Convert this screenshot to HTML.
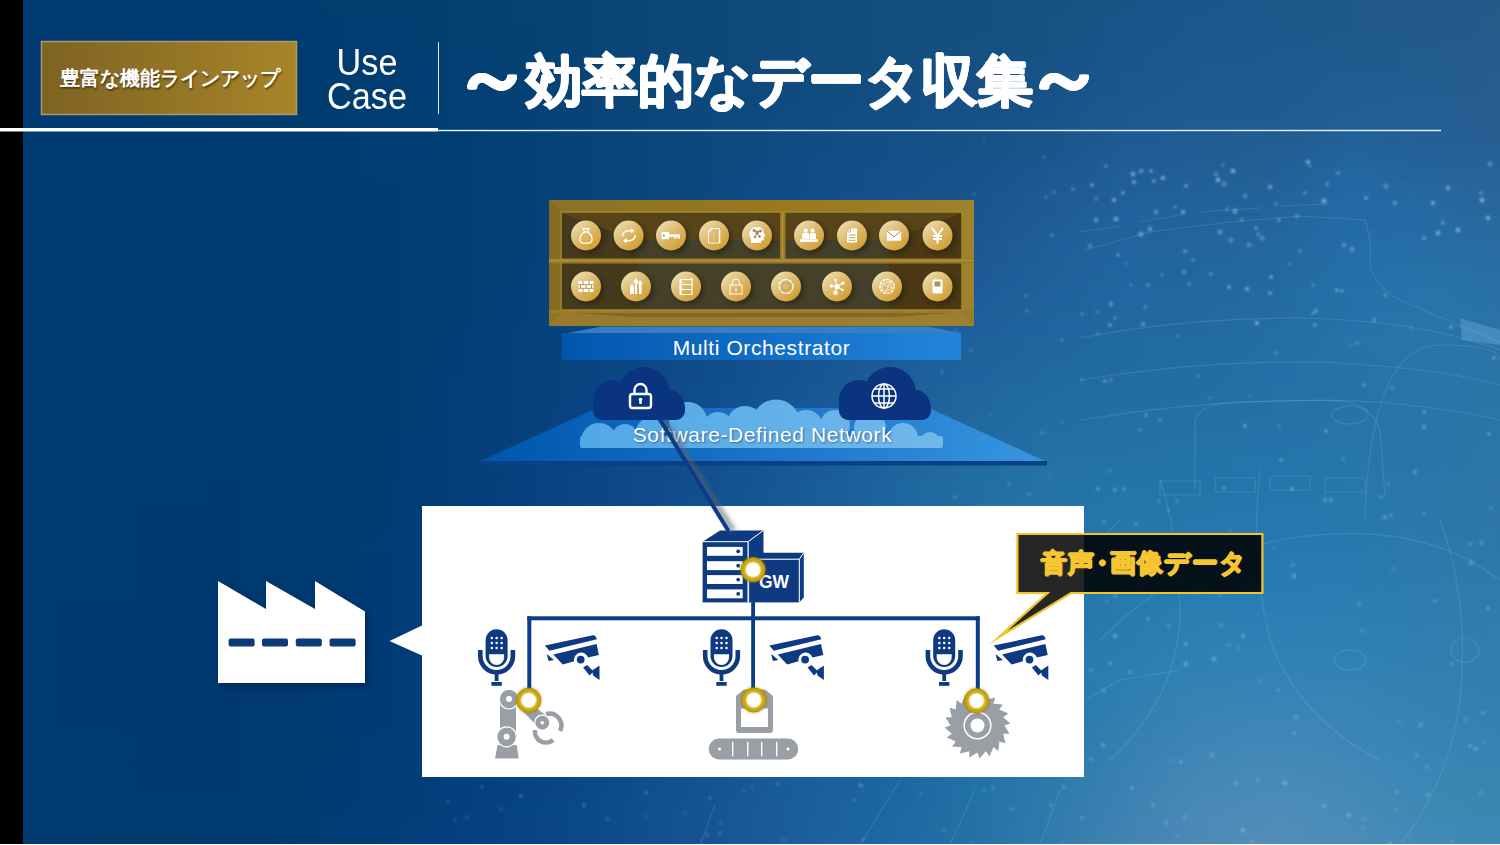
<!DOCTYPE html>
<html lang="ja"><head><meta charset="utf-8">
<style>
html,body{margin:0;padding:0;}
body{width:1500px;height:845px;overflow:hidden;position:relative;background:#000;font-family:"Liberation Sans",sans-serif;}
#bg{position:absolute;left:23px;top:0;width:1477px;height:844px;background:#003a70;}
#bot{position:absolute;left:0;top:844px;width:1500px;height:1px;background:#fff;}
.abs{position:absolute;}
.jp{white-space:nowrap;}
</style></head>
<body>
<div id="bg"></div>
<div id="bot"></div>
<svg class="abs" style="left:23px;top:0" width="1477" height="844" viewBox="23 0 1477 844"><defs>
<linearGradient id="r0" gradientUnits="userSpaceOnUse" x1="0" x2="1500" y1="0" y2="0"><stop offset="0.000" stop-color="#003a70"/><stop offset="0.050" stop-color="#003a70"/><stop offset="0.100" stop-color="#013b70"/><stop offset="0.150" stop-color="#013b6f"/><stop offset="0.200" stop-color="#013c70"/><stop offset="0.250" stop-color="#033e70"/><stop offset="0.300" stop-color="#053f72"/><stop offset="0.350" stop-color="#074274"/><stop offset="0.400" stop-color="#0a4476"/><stop offset="0.450" stop-color="#0d4777"/><stop offset="0.500" stop-color="#0f4979"/><stop offset="0.550" stop-color="#124c7a"/><stop offset="0.600" stop-color="#144e7c"/><stop offset="0.650" stop-color="#154f7e"/><stop offset="0.700" stop-color="#175182"/><stop offset="0.750" stop-color="#195487"/><stop offset="0.800" stop-color="#1b568b"/><stop offset="0.850" stop-color="#1d578a"/><stop offset="0.900" stop-color="#1f588a"/><stop offset="0.950" stop-color="#205a89"/><stop offset="1.000" stop-color="#225b89"/></linearGradient>
<linearGradient id="r1" gradientUnits="userSpaceOnUse" x1="0" x2="1500" y1="0" y2="0"><stop offset="0.000" stop-color="#003a70"/><stop offset="0.050" stop-color="#003a70"/><stop offset="0.100" stop-color="#013b70"/><stop offset="0.150" stop-color="#013b70"/><stop offset="0.200" stop-color="#013c70"/><stop offset="0.250" stop-color="#023d71"/><stop offset="0.300" stop-color="#043f72"/><stop offset="0.350" stop-color="#074274"/><stop offset="0.400" stop-color="#0a4476"/><stop offset="0.450" stop-color="#0d4777"/><stop offset="0.500" stop-color="#0f4979"/><stop offset="0.550" stop-color="#124c7b"/><stop offset="0.600" stop-color="#144e7d"/><stop offset="0.650" stop-color="#154f7f"/><stop offset="0.700" stop-color="#175283"/><stop offset="0.750" stop-color="#195588"/><stop offset="0.800" stop-color="#1b578c"/><stop offset="0.850" stop-color="#1d578b"/><stop offset="0.900" stop-color="#1f588a"/><stop offset="0.950" stop-color="#215a8a"/><stop offset="1.000" stop-color="#225c89"/></linearGradient>
<linearGradient id="r2" gradientUnits="userSpaceOnUse" x1="0" x2="1500" y1="0" y2="0"><stop offset="0.000" stop-color="#003a70"/><stop offset="0.050" stop-color="#003a70"/><stop offset="0.100" stop-color="#003a70"/><stop offset="0.150" stop-color="#013b70"/><stop offset="0.200" stop-color="#013c70"/><stop offset="0.250" stop-color="#023d71"/><stop offset="0.300" stop-color="#043f72"/><stop offset="0.350" stop-color="#074174"/><stop offset="0.400" stop-color="#0a4476"/><stop offset="0.450" stop-color="#0c4778"/><stop offset="0.500" stop-color="#0f497a"/><stop offset="0.550" stop-color="#114c7c"/><stop offset="0.600" stop-color="#144e7d"/><stop offset="0.650" stop-color="#154f7f"/><stop offset="0.700" stop-color="#175283"/><stop offset="0.750" stop-color="#195589"/><stop offset="0.800" stop-color="#1b578c"/><stop offset="0.850" stop-color="#1d588b"/><stop offset="0.900" stop-color="#1f598b"/><stop offset="0.950" stop-color="#215a8b"/><stop offset="1.000" stop-color="#235c8a"/></linearGradient>
<linearGradient id="r3" gradientUnits="userSpaceOnUse" x1="0" x2="1500" y1="0" y2="0"><stop offset="0.000" stop-color="#003a70"/><stop offset="0.050" stop-color="#003a70"/><stop offset="0.100" stop-color="#003a70"/><stop offset="0.150" stop-color="#013b70"/><stop offset="0.200" stop-color="#013c70"/><stop offset="0.250" stop-color="#023d71"/><stop offset="0.300" stop-color="#043f72"/><stop offset="0.350" stop-color="#074174"/><stop offset="0.400" stop-color="#0a4476"/><stop offset="0.450" stop-color="#0c4778"/><stop offset="0.500" stop-color="#0f497a"/><stop offset="0.550" stop-color="#114c7d"/><stop offset="0.600" stop-color="#144e7e"/><stop offset="0.650" stop-color="#155080"/><stop offset="0.700" stop-color="#175284"/><stop offset="0.750" stop-color="#1a558a"/><stop offset="0.800" stop-color="#1c588d"/><stop offset="0.850" stop-color="#1e588c"/><stop offset="0.900" stop-color="#20598c"/><stop offset="0.950" stop-color="#215b8c"/><stop offset="1.000" stop-color="#235c8b"/></linearGradient>
<linearGradient id="r4" gradientUnits="userSpaceOnUse" x1="0" x2="1500" y1="0" y2="0"><stop offset="0.000" stop-color="#003a70"/><stop offset="0.050" stop-color="#003a70"/><stop offset="0.100" stop-color="#003a70"/><stop offset="0.150" stop-color="#003b70"/><stop offset="0.200" stop-color="#013c70"/><stop offset="0.250" stop-color="#023d71"/><stop offset="0.300" stop-color="#033f72"/><stop offset="0.350" stop-color="#064174"/><stop offset="0.400" stop-color="#094477"/><stop offset="0.450" stop-color="#0c4778"/><stop offset="0.500" stop-color="#0f497b"/><stop offset="0.550" stop-color="#114c7d"/><stop offset="0.600" stop-color="#144e7f"/><stop offset="0.650" stop-color="#155081"/><stop offset="0.700" stop-color="#175285"/><stop offset="0.750" stop-color="#1a568b"/><stop offset="0.800" stop-color="#1c588e"/><stop offset="0.850" stop-color="#1e588d"/><stop offset="0.900" stop-color="#205a8d"/><stop offset="0.950" stop-color="#225b8d"/><stop offset="1.000" stop-color="#245c8c"/></linearGradient>
<linearGradient id="r5" gradientUnits="userSpaceOnUse" x1="0" x2="1500" y1="0" y2="0"><stop offset="0.000" stop-color="#003a70"/><stop offset="0.050" stop-color="#003a70"/><stop offset="0.100" stop-color="#003a70"/><stop offset="0.150" stop-color="#003b70"/><stop offset="0.200" stop-color="#013c70"/><stop offset="0.250" stop-color="#013d71"/><stop offset="0.300" stop-color="#033f72"/><stop offset="0.350" stop-color="#064174"/><stop offset="0.400" stop-color="#094477"/><stop offset="0.450" stop-color="#0c4779"/><stop offset="0.500" stop-color="#0f497c"/><stop offset="0.550" stop-color="#114c7e"/><stop offset="0.600" stop-color="#144e80"/><stop offset="0.650" stop-color="#165082"/><stop offset="0.700" stop-color="#185286"/><stop offset="0.750" stop-color="#1a568c"/><stop offset="0.800" stop-color="#1d598f"/><stop offset="0.850" stop-color="#1f598d"/><stop offset="0.900" stop-color="#205a8e"/><stop offset="0.950" stop-color="#225b8e"/><stop offset="1.000" stop-color="#245d8d"/></linearGradient>
<linearGradient id="r6" gradientUnits="userSpaceOnUse" x1="0" x2="1500" y1="0" y2="0"><stop offset="0.000" stop-color="#003a70"/><stop offset="0.050" stop-color="#003a70"/><stop offset="0.100" stop-color="#003a70"/><stop offset="0.150" stop-color="#003b70"/><stop offset="0.200" stop-color="#003c70"/><stop offset="0.250" stop-color="#013d71"/><stop offset="0.300" stop-color="#033f72"/><stop offset="0.350" stop-color="#064175"/><stop offset="0.400" stop-color="#094477"/><stop offset="0.450" stop-color="#0c4779"/><stop offset="0.500" stop-color="#0e497c"/><stop offset="0.550" stop-color="#114c7f"/><stop offset="0.600" stop-color="#144e81"/><stop offset="0.650" stop-color="#165083"/><stop offset="0.700" stop-color="#185386"/><stop offset="0.750" stop-color="#1b578d"/><stop offset="0.800" stop-color="#1d598f"/><stop offset="0.850" stop-color="#1f598e"/><stop offset="0.900" stop-color="#215b90"/><stop offset="0.950" stop-color="#235c8f"/><stop offset="1.000" stop-color="#255d8d"/></linearGradient>
<linearGradient id="r7" gradientUnits="userSpaceOnUse" x1="0" x2="1500" y1="0" y2="0"><stop offset="0.000" stop-color="#003a70"/><stop offset="0.050" stop-color="#003a70"/><stop offset="0.100" stop-color="#003a70"/><stop offset="0.150" stop-color="#003b70"/><stop offset="0.200" stop-color="#003c70"/><stop offset="0.250" stop-color="#013d71"/><stop offset="0.300" stop-color="#033f72"/><stop offset="0.350" stop-color="#054175"/><stop offset="0.400" stop-color="#094477"/><stop offset="0.450" stop-color="#0c4779"/><stop offset="0.500" stop-color="#0e497d"/><stop offset="0.550" stop-color="#114c80"/><stop offset="0.600" stop-color="#144e82"/><stop offset="0.650" stop-color="#165083"/><stop offset="0.700" stop-color="#185387"/><stop offset="0.750" stop-color="#1b578e"/><stop offset="0.800" stop-color="#1e5990"/><stop offset="0.850" stop-color="#20598e"/><stop offset="0.900" stop-color="#215c91"/><stop offset="0.950" stop-color="#235c91"/><stop offset="1.000" stop-color="#255d8e"/></linearGradient>
<linearGradient id="r8" gradientUnits="userSpaceOnUse" x1="0" x2="1500" y1="0" y2="0"><stop offset="0.000" stop-color="#003a70"/><stop offset="0.050" stop-color="#003a70"/><stop offset="0.100" stop-color="#003a70"/><stop offset="0.150" stop-color="#003b70"/><stop offset="0.200" stop-color="#003c70"/><stop offset="0.250" stop-color="#013d71"/><stop offset="0.300" stop-color="#023f73"/><stop offset="0.350" stop-color="#054175"/><stop offset="0.400" stop-color="#094477"/><stop offset="0.450" stop-color="#0b477a"/><stop offset="0.500" stop-color="#0e497e"/><stop offset="0.550" stop-color="#114c81"/><stop offset="0.600" stop-color="#144e83"/><stop offset="0.650" stop-color="#165084"/><stop offset="0.700" stop-color="#185388"/><stop offset="0.750" stop-color="#1c588f"/><stop offset="0.800" stop-color="#1e5a91"/><stop offset="0.850" stop-color="#205a8f"/><stop offset="0.900" stop-color="#215d93"/><stop offset="0.950" stop-color="#245d92"/><stop offset="1.000" stop-color="#255d8f"/></linearGradient>
<linearGradient id="r9" gradientUnits="userSpaceOnUse" x1="0" x2="1500" y1="0" y2="0"><stop offset="0.000" stop-color="#003a70"/><stop offset="0.050" stop-color="#003a70"/><stop offset="0.100" stop-color="#003a70"/><stop offset="0.150" stop-color="#003b70"/><stop offset="0.200" stop-color="#003c70"/><stop offset="0.250" stop-color="#003d71"/><stop offset="0.300" stop-color="#023f73"/><stop offset="0.350" stop-color="#054175"/><stop offset="0.400" stop-color="#084478"/><stop offset="0.450" stop-color="#0b477a"/><stop offset="0.500" stop-color="#0e4a7e"/><stop offset="0.550" stop-color="#114c83"/><stop offset="0.600" stop-color="#144e84"/><stop offset="0.650" stop-color="#165085"/><stop offset="0.700" stop-color="#195489"/><stop offset="0.750" stop-color="#1d5990"/><stop offset="0.800" stop-color="#1f5a92"/><stop offset="0.850" stop-color="#215a90"/><stop offset="0.900" stop-color="#225e94"/><stop offset="0.950" stop-color="#245d93"/><stop offset="1.000" stop-color="#265e90"/></linearGradient>
<linearGradient id="r10" gradientUnits="userSpaceOnUse" x1="0" x2="1500" y1="0" y2="0"><stop offset="0.000" stop-color="#003a70"/><stop offset="0.050" stop-color="#003a70"/><stop offset="0.100" stop-color="#003a70"/><stop offset="0.150" stop-color="#003b70"/><stop offset="0.200" stop-color="#003b70"/><stop offset="0.250" stop-color="#003d71"/><stop offset="0.300" stop-color="#023f73"/><stop offset="0.350" stop-color="#054175"/><stop offset="0.400" stop-color="#084478"/><stop offset="0.450" stop-color="#0b477b"/><stop offset="0.500" stop-color="#0e4a7f"/><stop offset="0.550" stop-color="#114c84"/><stop offset="0.600" stop-color="#144e86"/><stop offset="0.650" stop-color="#175187"/><stop offset="0.700" stop-color="#19548a"/><stop offset="0.750" stop-color="#1d5991"/><stop offset="0.800" stop-color="#205b93"/><stop offset="0.850" stop-color="#215b90"/><stop offset="0.900" stop-color="#225f97"/><stop offset="0.950" stop-color="#245e95"/><stop offset="1.000" stop-color="#265e91"/></linearGradient>
<linearGradient id="r11" gradientUnits="userSpaceOnUse" x1="0" x2="1500" y1="0" y2="0"><stop offset="0.000" stop-color="#003a70"/><stop offset="0.050" stop-color="#003a70"/><stop offset="0.100" stop-color="#003a70"/><stop offset="0.150" stop-color="#003b70"/><stop offset="0.200" stop-color="#003b70"/><stop offset="0.250" stop-color="#003d71"/><stop offset="0.300" stop-color="#013f73"/><stop offset="0.350" stop-color="#044175"/><stop offset="0.400" stop-color="#084478"/><stop offset="0.450" stop-color="#0b477b"/><stop offset="0.500" stop-color="#0e4a80"/><stop offset="0.550" stop-color="#114c85"/><stop offset="0.600" stop-color="#144f87"/><stop offset="0.650" stop-color="#175188"/><stop offset="0.700" stop-color="#1a558b"/><stop offset="0.750" stop-color="#1e5a93"/><stop offset="0.800" stop-color="#205c94"/><stop offset="0.850" stop-color="#215c91"/><stop offset="0.900" stop-color="#226199"/><stop offset="0.950" stop-color="#255f97"/><stop offset="1.000" stop-color="#275f92"/></linearGradient>
<linearGradient id="r12" gradientUnits="userSpaceOnUse" x1="0" x2="1500" y1="0" y2="0"><stop offset="0.000" stop-color="#003a70"/><stop offset="0.050" stop-color="#003a70"/><stop offset="0.100" stop-color="#003a70"/><stop offset="0.150" stop-color="#003a70"/><stop offset="0.200" stop-color="#003b70"/><stop offset="0.250" stop-color="#003d71"/><stop offset="0.300" stop-color="#013f73"/><stop offset="0.350" stop-color="#044176"/><stop offset="0.400" stop-color="#084479"/><stop offset="0.450" stop-color="#0b477c"/><stop offset="0.500" stop-color="#0e4a81"/><stop offset="0.550" stop-color="#114c86"/><stop offset="0.600" stop-color="#144f88"/><stop offset="0.650" stop-color="#175189"/><stop offset="0.700" stop-color="#1a558d"/><stop offset="0.750" stop-color="#1f5b95"/><stop offset="0.800" stop-color="#215d95"/><stop offset="0.850" stop-color="#225d93"/><stop offset="0.900" stop-color="#22639c"/><stop offset="0.950" stop-color="#256199"/><stop offset="1.000" stop-color="#276094"/></linearGradient>
<linearGradient id="r13" gradientUnits="userSpaceOnUse" x1="0" x2="1500" y1="0" y2="0"><stop offset="0.000" stop-color="#003a70"/><stop offset="0.050" stop-color="#003a70"/><stop offset="0.100" stop-color="#003a70"/><stop offset="0.150" stop-color="#003a70"/><stop offset="0.200" stop-color="#003b70"/><stop offset="0.250" stop-color="#003d71"/><stop offset="0.300" stop-color="#013e73"/><stop offset="0.350" stop-color="#044176"/><stop offset="0.400" stop-color="#084479"/><stop offset="0.450" stop-color="#0b477c"/><stop offset="0.500" stop-color="#0e4a81"/><stop offset="0.550" stop-color="#114d87"/><stop offset="0.600" stop-color="#144f89"/><stop offset="0.650" stop-color="#18528a"/><stop offset="0.700" stop-color="#1b568f"/><stop offset="0.750" stop-color="#205c97"/><stop offset="0.800" stop-color="#215e96"/><stop offset="0.850" stop-color="#225e95"/><stop offset="0.900" stop-color="#23659f"/><stop offset="0.950" stop-color="#25629b"/><stop offset="1.000" stop-color="#276195"/></linearGradient>
<linearGradient id="r14" gradientUnits="userSpaceOnUse" x1="0" x2="1500" y1="0" y2="0"><stop offset="0.000" stop-color="#003a71"/><stop offset="0.050" stop-color="#003a70"/><stop offset="0.100" stop-color="#003a70"/><stop offset="0.150" stop-color="#003a70"/><stop offset="0.200" stop-color="#003b70"/><stop offset="0.250" stop-color="#003d71"/><stop offset="0.300" stop-color="#013e73"/><stop offset="0.350" stop-color="#044176"/><stop offset="0.400" stop-color="#084479"/><stop offset="0.450" stop-color="#0b477d"/><stop offset="0.500" stop-color="#0e4a82"/><stop offset="0.550" stop-color="#114d88"/><stop offset="0.600" stop-color="#15508b"/><stop offset="0.650" stop-color="#18528c"/><stop offset="0.700" stop-color="#1c5891"/><stop offset="0.750" stop-color="#205e98"/><stop offset="0.800" stop-color="#225f97"/><stop offset="0.850" stop-color="#226097"/><stop offset="0.900" stop-color="#2367a2"/><stop offset="0.950" stop-color="#25649d"/><stop offset="1.000" stop-color="#286297"/></linearGradient>
<linearGradient id="r15" gradientUnits="userSpaceOnUse" x1="0" x2="1500" y1="0" y2="0"><stop offset="0.000" stop-color="#003a71"/><stop offset="0.050" stop-color="#003a70"/><stop offset="0.100" stop-color="#003a70"/><stop offset="0.150" stop-color="#003a70"/><stop offset="0.200" stop-color="#003b70"/><stop offset="0.250" stop-color="#003c71"/><stop offset="0.300" stop-color="#003e73"/><stop offset="0.350" stop-color="#044176"/><stop offset="0.400" stop-color="#07447a"/><stop offset="0.450" stop-color="#0b477e"/><stop offset="0.500" stop-color="#0e4a83"/><stop offset="0.550" stop-color="#114d89"/><stop offset="0.600" stop-color="#15508c"/><stop offset="0.650" stop-color="#19538d"/><stop offset="0.700" stop-color="#1d5993"/><stop offset="0.750" stop-color="#215f9a"/><stop offset="0.800" stop-color="#226099"/><stop offset="0.850" stop-color="#236198"/><stop offset="0.900" stop-color="#2369a5"/><stop offset="0.950" stop-color="#2666a0"/><stop offset="1.000" stop-color="#286499"/></linearGradient>
<linearGradient id="r16" gradientUnits="userSpaceOnUse" x1="0" x2="1500" y1="0" y2="0"><stop offset="0.000" stop-color="#003a71"/><stop offset="0.050" stop-color="#003a70"/><stop offset="0.100" stop-color="#003a70"/><stop offset="0.150" stop-color="#003a70"/><stop offset="0.200" stop-color="#003b70"/><stop offset="0.250" stop-color="#003c71"/><stop offset="0.300" stop-color="#003e73"/><stop offset="0.350" stop-color="#044177"/><stop offset="0.400" stop-color="#07447a"/><stop offset="0.450" stop-color="#0b477e"/><stop offset="0.500" stop-color="#0e4b84"/><stop offset="0.550" stop-color="#114e8a"/><stop offset="0.600" stop-color="#15518d"/><stop offset="0.650" stop-color="#1a548e"/><stop offset="0.700" stop-color="#1e5a94"/><stop offset="0.750" stop-color="#22609c"/><stop offset="0.800" stop-color="#22619a"/><stop offset="0.850" stop-color="#23639a"/><stop offset="0.900" stop-color="#236aa6"/><stop offset="0.950" stop-color="#2668a2"/><stop offset="1.000" stop-color="#28659b"/></linearGradient>
<linearGradient id="r17" gradientUnits="userSpaceOnUse" x1="0" x2="1500" y1="0" y2="0"><stop offset="0.000" stop-color="#003a71"/><stop offset="0.050" stop-color="#003a70"/><stop offset="0.100" stop-color="#003a70"/><stop offset="0.150" stop-color="#003a70"/><stop offset="0.200" stop-color="#003b70"/><stop offset="0.250" stop-color="#003c71"/><stop offset="0.300" stop-color="#003e74"/><stop offset="0.350" stop-color="#044177"/><stop offset="0.400" stop-color="#07447b"/><stop offset="0.450" stop-color="#0b477f"/><stop offset="0.500" stop-color="#0e4b85"/><stop offset="0.550" stop-color="#124e8b"/><stop offset="0.600" stop-color="#16518e"/><stop offset="0.650" stop-color="#1a5590"/><stop offset="0.700" stop-color="#1e5b96"/><stop offset="0.750" stop-color="#22619d"/><stop offset="0.800" stop-color="#22629b"/><stop offset="0.850" stop-color="#23649c"/><stop offset="0.900" stop-color="#246ba7"/><stop offset="0.950" stop-color="#2669a4"/><stop offset="1.000" stop-color="#28679d"/></linearGradient>
<linearGradient id="r18" gradientUnits="userSpaceOnUse" x1="0" x2="1500" y1="0" y2="0"><stop offset="0.000" stop-color="#003a71"/><stop offset="0.050" stop-color="#003a70"/><stop offset="0.100" stop-color="#003a70"/><stop offset="0.150" stop-color="#003a70"/><stop offset="0.200" stop-color="#003b70"/><stop offset="0.250" stop-color="#003c71"/><stop offset="0.300" stop-color="#003e74"/><stop offset="0.350" stop-color="#044177"/><stop offset="0.400" stop-color="#07447b"/><stop offset="0.450" stop-color="#0b4880"/><stop offset="0.500" stop-color="#0f4b86"/><stop offset="0.550" stop-color="#124f8c"/><stop offset="0.600" stop-color="#16528f"/><stop offset="0.650" stop-color="#1b5591"/><stop offset="0.700" stop-color="#1f5c97"/><stop offset="0.750" stop-color="#22629e"/><stop offset="0.800" stop-color="#23639c"/><stop offset="0.850" stop-color="#23659d"/><stop offset="0.900" stop-color="#246ca7"/><stop offset="0.950" stop-color="#266ba5"/><stop offset="1.000" stop-color="#29699e"/></linearGradient>
<linearGradient id="r19" gradientUnits="userSpaceOnUse" x1="0" x2="1500" y1="0" y2="0"><stop offset="0.000" stop-color="#003a71"/><stop offset="0.050" stop-color="#003a70"/><stop offset="0.100" stop-color="#003a70"/><stop offset="0.150" stop-color="#003a70"/><stop offset="0.200" stop-color="#003b70"/><stop offset="0.250" stop-color="#003c71"/><stop offset="0.300" stop-color="#003e74"/><stop offset="0.350" stop-color="#044178"/><stop offset="0.400" stop-color="#07447c"/><stop offset="0.450" stop-color="#0b4881"/><stop offset="0.500" stop-color="#0f4b87"/><stop offset="0.550" stop-color="#124f8c"/><stop offset="0.600" stop-color="#175290"/><stop offset="0.650" stop-color="#1c5692"/><stop offset="0.700" stop-color="#1f5d99"/><stop offset="0.750" stop-color="#22639e"/><stop offset="0.800" stop-color="#23649d"/><stop offset="0.850" stop-color="#24669f"/><stop offset="0.900" stop-color="#246ca8"/><stop offset="0.950" stop-color="#266da7"/><stop offset="1.000" stop-color="#296aa0"/></linearGradient>
<linearGradient id="r20" gradientUnits="userSpaceOnUse" x1="0" x2="1500" y1="0" y2="0"><stop offset="0.000" stop-color="#003a71"/><stop offset="0.050" stop-color="#003a70"/><stop offset="0.100" stop-color="#003a70"/><stop offset="0.150" stop-color="#003a70"/><stop offset="0.200" stop-color="#003b70"/><stop offset="0.250" stop-color="#003c71"/><stop offset="0.300" stop-color="#003e74"/><stop offset="0.350" stop-color="#044178"/><stop offset="0.400" stop-color="#08447c"/><stop offset="0.450" stop-color="#0b4881"/><stop offset="0.500" stop-color="#0f4c87"/><stop offset="0.550" stop-color="#13508d"/><stop offset="0.600" stop-color="#175391"/><stop offset="0.650" stop-color="#1c5793"/><stop offset="0.700" stop-color="#1f5e9a"/><stop offset="0.750" stop-color="#22649f"/><stop offset="0.800" stop-color="#23659e"/><stop offset="0.850" stop-color="#2467a0"/><stop offset="0.900" stop-color="#246da8"/><stop offset="0.950" stop-color="#276ea8"/><stop offset="1.000" stop-color="#296ca1"/></linearGradient>
<linearGradient id="r21" gradientUnits="userSpaceOnUse" x1="0" x2="1500" y1="0" y2="0"><stop offset="0.000" stop-color="#003a71"/><stop offset="0.050" stop-color="#003a70"/><stop offset="0.100" stop-color="#003a70"/><stop offset="0.150" stop-color="#003a70"/><stop offset="0.200" stop-color="#003b70"/><stop offset="0.250" stop-color="#003c72"/><stop offset="0.300" stop-color="#003e74"/><stop offset="0.350" stop-color="#044178"/><stop offset="0.400" stop-color="#08447d"/><stop offset="0.450" stop-color="#0c4882"/><stop offset="0.500" stop-color="#0f4c88"/><stop offset="0.550" stop-color="#13508e"/><stop offset="0.600" stop-color="#185491"/><stop offset="0.650" stop-color="#1c5894"/><stop offset="0.700" stop-color="#205f9a"/><stop offset="0.750" stop-color="#21649f"/><stop offset="0.800" stop-color="#23669f"/><stop offset="0.850" stop-color="#2468a1"/><stop offset="0.900" stop-color="#256ea8"/><stop offset="0.950" stop-color="#276fa9"/><stop offset="1.000" stop-color="#296da3"/></linearGradient>
<linearGradient id="r22" gradientUnits="userSpaceOnUse" x1="0" x2="1500" y1="0" y2="0"><stop offset="0.000" stop-color="#003a71"/><stop offset="0.050" stop-color="#003a70"/><stop offset="0.100" stop-color="#003a70"/><stop offset="0.150" stop-color="#003a70"/><stop offset="0.200" stop-color="#003b70"/><stop offset="0.250" stop-color="#003c72"/><stop offset="0.300" stop-color="#003e75"/><stop offset="0.350" stop-color="#044179"/><stop offset="0.400" stop-color="#08447e"/><stop offset="0.450" stop-color="#0c4883"/><stop offset="0.500" stop-color="#104d89"/><stop offset="0.550" stop-color="#14518f"/><stop offset="0.600" stop-color="#185592"/><stop offset="0.650" stop-color="#1d5996"/><stop offset="0.700" stop-color="#20609b"/><stop offset="0.750" stop-color="#2165a0"/><stop offset="0.800" stop-color="#2367a0"/><stop offset="0.850" stop-color="#2469a1"/><stop offset="0.900" stop-color="#256ea8"/><stop offset="0.950" stop-color="#2771a9"/><stop offset="1.000" stop-color="#296ea4"/></linearGradient>
<linearGradient id="r23" gradientUnits="userSpaceOnUse" x1="0" x2="1500" y1="0" y2="0"><stop offset="0.000" stop-color="#003a71"/><stop offset="0.050" stop-color="#003a70"/><stop offset="0.100" stop-color="#003a70"/><stop offset="0.150" stop-color="#003a70"/><stop offset="0.200" stop-color="#003b70"/><stop offset="0.250" stop-color="#003c72"/><stop offset="0.300" stop-color="#013e75"/><stop offset="0.350" stop-color="#044179"/><stop offset="0.400" stop-color="#08447e"/><stop offset="0.450" stop-color="#0c4984"/><stop offset="0.500" stop-color="#104d8a"/><stop offset="0.550" stop-color="#14518f"/><stop offset="0.600" stop-color="#195693"/><stop offset="0.650" stop-color="#1d5a97"/><stop offset="0.700" stop-color="#20619c"/><stop offset="0.750" stop-color="#2166a0"/><stop offset="0.800" stop-color="#2367a0"/><stop offset="0.850" stop-color="#246aa2"/><stop offset="0.900" stop-color="#256fa9"/><stop offset="0.950" stop-color="#2772aa"/><stop offset="1.000" stop-color="#2970a5"/></linearGradient>
<linearGradient id="r24" gradientUnits="userSpaceOnUse" x1="0" x2="1500" y1="0" y2="0"><stop offset="0.000" stop-color="#003a71"/><stop offset="0.050" stop-color="#003a70"/><stop offset="0.100" stop-color="#003a70"/><stop offset="0.150" stop-color="#003a70"/><stop offset="0.200" stop-color="#003b70"/><stop offset="0.250" stop-color="#003c72"/><stop offset="0.300" stop-color="#013e75"/><stop offset="0.350" stop-color="#044179"/><stop offset="0.400" stop-color="#08457f"/><stop offset="0.450" stop-color="#0c4984"/><stop offset="0.500" stop-color="#104d8a"/><stop offset="0.550" stop-color="#145290"/><stop offset="0.600" stop-color="#195794"/><stop offset="0.650" stop-color="#1d5c98"/><stop offset="0.700" stop-color="#20629d"/><stop offset="0.750" stop-color="#2167a1"/><stop offset="0.800" stop-color="#2368a1"/><stop offset="0.850" stop-color="#246ba3"/><stop offset="0.900" stop-color="#2570a9"/><stop offset="0.950" stop-color="#2773ab"/><stop offset="1.000" stop-color="#2971a5"/></linearGradient>
<linearGradient id="r25" gradientUnits="userSpaceOnUse" x1="0" x2="1500" y1="0" y2="0"><stop offset="0.000" stop-color="#003a71"/><stop offset="0.050" stop-color="#003a70"/><stop offset="0.100" stop-color="#003a70"/><stop offset="0.150" stop-color="#003a6f"/><stop offset="0.200" stop-color="#003b70"/><stop offset="0.250" stop-color="#003c72"/><stop offset="0.300" stop-color="#013e75"/><stop offset="0.350" stop-color="#04417a"/><stop offset="0.400" stop-color="#08457f"/><stop offset="0.450" stop-color="#0d4985"/><stop offset="0.500" stop-color="#114e8b"/><stop offset="0.550" stop-color="#155391"/><stop offset="0.600" stop-color="#1a5895"/><stop offset="0.650" stop-color="#1e5d99"/><stop offset="0.700" stop-color="#20639d"/><stop offset="0.750" stop-color="#2167a1"/><stop offset="0.800" stop-color="#2369a2"/><stop offset="0.850" stop-color="#246ba4"/><stop offset="0.900" stop-color="#2570a9"/><stop offset="0.950" stop-color="#2773ab"/><stop offset="1.000" stop-color="#2a72a6"/></linearGradient>
<linearGradient id="r26" gradientUnits="userSpaceOnUse" x1="0" x2="1500" y1="0" y2="0"><stop offset="0.000" stop-color="#003a70"/><stop offset="0.050" stop-color="#003a70"/><stop offset="0.100" stop-color="#003a70"/><stop offset="0.150" stop-color="#003a6f"/><stop offset="0.200" stop-color="#003b70"/><stop offset="0.250" stop-color="#003c72"/><stop offset="0.300" stop-color="#013e75"/><stop offset="0.350" stop-color="#04417a"/><stop offset="0.400" stop-color="#094580"/><stop offset="0.450" stop-color="#0d4986"/><stop offset="0.500" stop-color="#114e8c"/><stop offset="0.550" stop-color="#155391"/><stop offset="0.600" stop-color="#1a5996"/><stop offset="0.650" stop-color="#1e5e9a"/><stop offset="0.700" stop-color="#20649e"/><stop offset="0.750" stop-color="#2168a1"/><stop offset="0.800" stop-color="#236aa2"/><stop offset="0.850" stop-color="#246ca4"/><stop offset="0.900" stop-color="#2671a9"/><stop offset="0.950" stop-color="#2874ab"/><stop offset="1.000" stop-color="#2a72a7"/></linearGradient>
<linearGradient id="r27" gradientUnits="userSpaceOnUse" x1="0" x2="1500" y1="0" y2="0"><stop offset="0.000" stop-color="#003a70"/><stop offset="0.050" stop-color="#003a70"/><stop offset="0.100" stop-color="#003a70"/><stop offset="0.150" stop-color="#003a6f"/><stop offset="0.200" stop-color="#003b70"/><stop offset="0.250" stop-color="#003c72"/><stop offset="0.300" stop-color="#013e76"/><stop offset="0.350" stop-color="#05417b"/><stop offset="0.400" stop-color="#094580"/><stop offset="0.450" stop-color="#0d4986"/><stop offset="0.500" stop-color="#114f8c"/><stop offset="0.550" stop-color="#165492"/><stop offset="0.600" stop-color="#1a5a97"/><stop offset="0.650" stop-color="#1e5f9b"/><stop offset="0.700" stop-color="#20659f"/><stop offset="0.750" stop-color="#2169a2"/><stop offset="0.800" stop-color="#236aa3"/><stop offset="0.850" stop-color="#246da5"/><stop offset="0.900" stop-color="#2671a9"/><stop offset="0.950" stop-color="#2874ab"/><stop offset="1.000" stop-color="#2a73a7"/></linearGradient>
<linearGradient id="r28" gradientUnits="userSpaceOnUse" x1="0" x2="1500" y1="0" y2="0"><stop offset="0.000" stop-color="#003a70"/><stop offset="0.050" stop-color="#003a70"/><stop offset="0.100" stop-color="#003a70"/><stop offset="0.150" stop-color="#003a6f"/><stop offset="0.200" stop-color="#003b70"/><stop offset="0.250" stop-color="#003c72"/><stop offset="0.300" stop-color="#013e76"/><stop offset="0.350" stop-color="#05417b"/><stop offset="0.400" stop-color="#094581"/><stop offset="0.450" stop-color="#0d4a87"/><stop offset="0.500" stop-color="#124f8d"/><stop offset="0.550" stop-color="#165593"/><stop offset="0.600" stop-color="#1b5b97"/><stop offset="0.650" stop-color="#1f619b"/><stop offset="0.700" stop-color="#20669f"/><stop offset="0.750" stop-color="#216aa2"/><stop offset="0.800" stop-color="#236ba3"/><stop offset="0.850" stop-color="#246da5"/><stop offset="0.900" stop-color="#2672a9"/><stop offset="0.950" stop-color="#2874ab"/><stop offset="1.000" stop-color="#2a73a7"/></linearGradient>
<linearGradient id="r29" gradientUnits="userSpaceOnUse" x1="0" x2="1500" y1="0" y2="0"><stop offset="0.000" stop-color="#003a70"/><stop offset="0.050" stop-color="#003a70"/><stop offset="0.100" stop-color="#003a6f"/><stop offset="0.150" stop-color="#003a6f"/><stop offset="0.200" stop-color="#003b70"/><stop offset="0.250" stop-color="#003c72"/><stop offset="0.300" stop-color="#013e76"/><stop offset="0.350" stop-color="#05417c"/><stop offset="0.400" stop-color="#094582"/><stop offset="0.450" stop-color="#0e4a88"/><stop offset="0.500" stop-color="#12508e"/><stop offset="0.550" stop-color="#165693"/><stop offset="0.600" stop-color="#1b5c98"/><stop offset="0.650" stop-color="#1f629c"/><stop offset="0.700" stop-color="#2067a0"/><stop offset="0.750" stop-color="#216aa2"/><stop offset="0.800" stop-color="#236ca3"/><stop offset="0.850" stop-color="#246ea6"/><stop offset="0.900" stop-color="#2672a9"/><stop offset="0.950" stop-color="#2874aa"/><stop offset="1.000" stop-color="#2a74a7"/></linearGradient>
<linearGradient id="r30" gradientUnits="userSpaceOnUse" x1="0" x2="1500" y1="0" y2="0"><stop offset="0.000" stop-color="#003a70"/><stop offset="0.050" stop-color="#003a70"/><stop offset="0.100" stop-color="#003a6f"/><stop offset="0.150" stop-color="#003a6f"/><stop offset="0.200" stop-color="#003b70"/><stop offset="0.250" stop-color="#003c72"/><stop offset="0.300" stop-color="#013e76"/><stop offset="0.350" stop-color="#05417c"/><stop offset="0.400" stop-color="#0a4582"/><stop offset="0.450" stop-color="#0e4a88"/><stop offset="0.500" stop-color="#12508e"/><stop offset="0.550" stop-color="#175694"/><stop offset="0.600" stop-color="#1b5d99"/><stop offset="0.650" stop-color="#1f639d"/><stop offset="0.700" stop-color="#2168a1"/><stop offset="0.750" stop-color="#216ba3"/><stop offset="0.800" stop-color="#236ca4"/><stop offset="0.850" stop-color="#246fa6"/><stop offset="0.900" stop-color="#2672a9"/><stop offset="0.950" stop-color="#2874aa"/><stop offset="1.000" stop-color="#2a74a7"/></linearGradient>
<linearGradient id="r31" gradientUnits="userSpaceOnUse" x1="0" x2="1500" y1="0" y2="0"><stop offset="0.000" stop-color="#003a70"/><stop offset="0.050" stop-color="#003a70"/><stop offset="0.100" stop-color="#003a6f"/><stop offset="0.150" stop-color="#003a6f"/><stop offset="0.200" stop-color="#003b70"/><stop offset="0.250" stop-color="#003c72"/><stop offset="0.300" stop-color="#023e77"/><stop offset="0.350" stop-color="#05417c"/><stop offset="0.400" stop-color="#0a4583"/><stop offset="0.450" stop-color="#0e4a89"/><stop offset="0.500" stop-color="#13508f"/><stop offset="0.550" stop-color="#175795"/><stop offset="0.600" stop-color="#1c5e9a"/><stop offset="0.650" stop-color="#1f649e"/><stop offset="0.700" stop-color="#2169a1"/><stop offset="0.750" stop-color="#226ca3"/><stop offset="0.800" stop-color="#236da4"/><stop offset="0.850" stop-color="#246fa7"/><stop offset="0.900" stop-color="#2673aa"/><stop offset="0.950" stop-color="#2875aa"/><stop offset="1.000" stop-color="#2a74a7"/></linearGradient>
<linearGradient id="r32" gradientUnits="userSpaceOnUse" x1="0" x2="1500" y1="0" y2="0"><stop offset="0.000" stop-color="#003a70"/><stop offset="0.050" stop-color="#003a70"/><stop offset="0.100" stop-color="#003a6f"/><stop offset="0.150" stop-color="#003a6f"/><stop offset="0.200" stop-color="#003b70"/><stop offset="0.250" stop-color="#003c72"/><stop offset="0.300" stop-color="#023e77"/><stop offset="0.350" stop-color="#06417d"/><stop offset="0.400" stop-color="#0a4583"/><stop offset="0.450" stop-color="#0f4b8a"/><stop offset="0.500" stop-color="#135190"/><stop offset="0.550" stop-color="#175895"/><stop offset="0.600" stop-color="#1c5f9a"/><stop offset="0.650" stop-color="#20669f"/><stop offset="0.700" stop-color="#216ba2"/><stop offset="0.750" stop-color="#226da4"/><stop offset="0.800" stop-color="#236da5"/><stop offset="0.850" stop-color="#2470a7"/><stop offset="0.900" stop-color="#2673aa"/><stop offset="0.950" stop-color="#2875aa"/><stop offset="1.000" stop-color="#2b74a7"/></linearGradient>
<linearGradient id="r33" gradientUnits="userSpaceOnUse" x1="0" x2="1500" y1="0" y2="0"><stop offset="0.000" stop-color="#003a70"/><stop offset="0.050" stop-color="#003a70"/><stop offset="0.100" stop-color="#003a6f"/><stop offset="0.150" stop-color="#003a6f"/><stop offset="0.200" stop-color="#003b70"/><stop offset="0.250" stop-color="#003c72"/><stop offset="0.300" stop-color="#023e77"/><stop offset="0.350" stop-color="#06417d"/><stop offset="0.400" stop-color="#0a4584"/><stop offset="0.450" stop-color="#0f4b8a"/><stop offset="0.500" stop-color="#135190"/><stop offset="0.550" stop-color="#185996"/><stop offset="0.600" stop-color="#1c609b"/><stop offset="0.650" stop-color="#20679f"/><stop offset="0.700" stop-color="#226ca3"/><stop offset="0.750" stop-color="#226ea4"/><stop offset="0.800" stop-color="#236ea5"/><stop offset="0.850" stop-color="#2470a8"/><stop offset="0.900" stop-color="#2673aa"/><stop offset="0.950" stop-color="#2875a9"/><stop offset="1.000" stop-color="#2b74a7"/></linearGradient>
<linearGradient id="r34" gradientUnits="userSpaceOnUse" x1="0" x2="1500" y1="0" y2="0"><stop offset="0.000" stop-color="#003a70"/><stop offset="0.050" stop-color="#003a70"/><stop offset="0.100" stop-color="#003a6f"/><stop offset="0.150" stop-color="#003a6f"/><stop offset="0.200" stop-color="#003a70"/><stop offset="0.250" stop-color="#003c72"/><stop offset="0.300" stop-color="#023e77"/><stop offset="0.350" stop-color="#06417e"/><stop offset="0.400" stop-color="#0b4584"/><stop offset="0.450" stop-color="#0f4b8b"/><stop offset="0.500" stop-color="#145291"/><stop offset="0.550" stop-color="#185997"/><stop offset="0.600" stop-color="#1d619c"/><stop offset="0.650" stop-color="#2068a0"/><stop offset="0.700" stop-color="#226da3"/><stop offset="0.750" stop-color="#226fa5"/><stop offset="0.800" stop-color="#236fa6"/><stop offset="0.850" stop-color="#2471a8"/><stop offset="0.900" stop-color="#2673aa"/><stop offset="0.950" stop-color="#2975a9"/><stop offset="1.000" stop-color="#2b75a7"/></linearGradient>
<linearGradient id="r35" gradientUnits="userSpaceOnUse" x1="0" x2="1500" y1="0" y2="0"><stop offset="0.000" stop-color="#003a70"/><stop offset="0.050" stop-color="#003a70"/><stop offset="0.100" stop-color="#003a6f"/><stop offset="0.150" stop-color="#003a6f"/><stop offset="0.200" stop-color="#003a70"/><stop offset="0.250" stop-color="#003c72"/><stop offset="0.300" stop-color="#023e77"/><stop offset="0.350" stop-color="#06417e"/><stop offset="0.400" stop-color="#0b4685"/><stop offset="0.450" stop-color="#0f4b8b"/><stop offset="0.500" stop-color="#145291"/><stop offset="0.550" stop-color="#185a97"/><stop offset="0.600" stop-color="#1d629c"/><stop offset="0.650" stop-color="#2169a1"/><stop offset="0.700" stop-color="#226ea4"/><stop offset="0.750" stop-color="#236fa6"/><stop offset="0.800" stop-color="#2370a7"/><stop offset="0.850" stop-color="#2472a9"/><stop offset="0.900" stop-color="#2674aa"/><stop offset="0.950" stop-color="#2975a9"/><stop offset="1.000" stop-color="#2b75a7"/></linearGradient>
<linearGradient id="r36" gradientUnits="userSpaceOnUse" x1="0" x2="1500" y1="0" y2="0"><stop offset="0.000" stop-color="#003a70"/><stop offset="0.050" stop-color="#003a70"/><stop offset="0.100" stop-color="#003a6f"/><stop offset="0.150" stop-color="#003a6f"/><stop offset="0.200" stop-color="#003a70"/><stop offset="0.250" stop-color="#003c73"/><stop offset="0.300" stop-color="#023e78"/><stop offset="0.350" stop-color="#06417e"/><stop offset="0.400" stop-color="#0b4685"/><stop offset="0.450" stop-color="#104c8c"/><stop offset="0.500" stop-color="#145392"/><stop offset="0.550" stop-color="#195a98"/><stop offset="0.600" stop-color="#1d639d"/><stop offset="0.650" stop-color="#216aa1"/><stop offset="0.700" stop-color="#236fa5"/><stop offset="0.750" stop-color="#2370a6"/><stop offset="0.800" stop-color="#2371a7"/><stop offset="0.850" stop-color="#2472a9"/><stop offset="0.900" stop-color="#2674aa"/><stop offset="0.950" stop-color="#2975a9"/><stop offset="1.000" stop-color="#2b75a7"/></linearGradient>
<linearGradient id="r37" gradientUnits="userSpaceOnUse" x1="0" x2="1500" y1="0" y2="0"><stop offset="0.000" stop-color="#003a70"/><stop offset="0.050" stop-color="#003a70"/><stop offset="0.100" stop-color="#003a6f"/><stop offset="0.150" stop-color="#003a6f"/><stop offset="0.200" stop-color="#003a70"/><stop offset="0.250" stop-color="#003c73"/><stop offset="0.300" stop-color="#023e78"/><stop offset="0.350" stop-color="#07417f"/><stop offset="0.400" stop-color="#0b4686"/><stop offset="0.450" stop-color="#104c8c"/><stop offset="0.500" stop-color="#145392"/><stop offset="0.550" stop-color="#195b98"/><stop offset="0.600" stop-color="#1d639d"/><stop offset="0.650" stop-color="#216ba2"/><stop offset="0.700" stop-color="#2370a5"/><stop offset="0.750" stop-color="#2371a7"/><stop offset="0.800" stop-color="#2472a8"/><stop offset="0.850" stop-color="#2473aa"/><stop offset="0.900" stop-color="#2675ab"/><stop offset="0.950" stop-color="#2975a9"/><stop offset="1.000" stop-color="#2c75a7"/></linearGradient>
<linearGradient id="r38" gradientUnits="userSpaceOnUse" x1="0" x2="1500" y1="0" y2="0"><stop offset="0.000" stop-color="#003a70"/><stop offset="0.050" stop-color="#003a70"/><stop offset="0.100" stop-color="#003a6f"/><stop offset="0.150" stop-color="#003a6f"/><stop offset="0.200" stop-color="#003a70"/><stop offset="0.250" stop-color="#003c73"/><stop offset="0.300" stop-color="#023e78"/><stop offset="0.350" stop-color="#07417f"/><stop offset="0.400" stop-color="#0c4686"/><stop offset="0.450" stop-color="#104c8d"/><stop offset="0.500" stop-color="#145393"/><stop offset="0.550" stop-color="#195c99"/><stop offset="0.600" stop-color="#1d649e"/><stop offset="0.650" stop-color="#226ca3"/><stop offset="0.700" stop-color="#2371a6"/><stop offset="0.750" stop-color="#2472a8"/><stop offset="0.800" stop-color="#2473a9"/><stop offset="0.850" stop-color="#2574ab"/><stop offset="0.900" stop-color="#2775ab"/><stop offset="0.950" stop-color="#2975a9"/><stop offset="1.000" stop-color="#2c75a7"/></linearGradient>
<linearGradient id="r39" gradientUnits="userSpaceOnUse" x1="0" x2="1500" y1="0" y2="0"><stop offset="0.000" stop-color="#003a70"/><stop offset="0.050" stop-color="#003a70"/><stop offset="0.100" stop-color="#003a6f"/><stop offset="0.150" stop-color="#003a6f"/><stop offset="0.200" stop-color="#003a70"/><stop offset="0.250" stop-color="#003c73"/><stop offset="0.300" stop-color="#023e78"/><stop offset="0.350" stop-color="#07417f"/><stop offset="0.400" stop-color="#0c4687"/><stop offset="0.450" stop-color="#104c8d"/><stop offset="0.500" stop-color="#155493"/><stop offset="0.550" stop-color="#195c99"/><stop offset="0.600" stop-color="#1e659e"/><stop offset="0.650" stop-color="#226da3"/><stop offset="0.700" stop-color="#2472a6"/><stop offset="0.750" stop-color="#2473a8"/><stop offset="0.800" stop-color="#2473aa"/><stop offset="0.850" stop-color="#2575ac"/><stop offset="0.900" stop-color="#2776ac"/><stop offset="0.950" stop-color="#2a76a9"/><stop offset="1.000" stop-color="#2c76a7"/></linearGradient>
<linearGradient id="r40" gradientUnits="userSpaceOnUse" x1="0" x2="1500" y1="0" y2="0"><stop offset="0.000" stop-color="#003a70"/><stop offset="0.050" stop-color="#003a70"/><stop offset="0.100" stop-color="#003a6f"/><stop offset="0.150" stop-color="#00396f"/><stop offset="0.200" stop-color="#003a70"/><stop offset="0.250" stop-color="#003c73"/><stop offset="0.300" stop-color="#033e78"/><stop offset="0.350" stop-color="#074180"/><stop offset="0.400" stop-color="#0c4687"/><stop offset="0.450" stop-color="#104c8e"/><stop offset="0.500" stop-color="#155494"/><stop offset="0.550" stop-color="#195d99"/><stop offset="0.600" stop-color="#1e669f"/><stop offset="0.650" stop-color="#226ea4"/><stop offset="0.700" stop-color="#2472a7"/><stop offset="0.750" stop-color="#2474a9"/><stop offset="0.800" stop-color="#2474ab"/><stop offset="0.850" stop-color="#2575ac"/><stop offset="0.900" stop-color="#2776ac"/><stop offset="0.950" stop-color="#2a76aa"/><stop offset="1.000" stop-color="#2d76a7"/></linearGradient>
<linearGradient id="r41" gradientUnits="userSpaceOnUse" x1="0" x2="1500" y1="0" y2="0"><stop offset="0.000" stop-color="#003a70"/><stop offset="0.050" stop-color="#003a70"/><stop offset="0.100" stop-color="#003a6f"/><stop offset="0.150" stop-color="#00396f"/><stop offset="0.200" stop-color="#003a70"/><stop offset="0.250" stop-color="#003c73"/><stop offset="0.300" stop-color="#033e79"/><stop offset="0.350" stop-color="#074180"/><stop offset="0.400" stop-color="#0c4687"/><stop offset="0.450" stop-color="#104d8e"/><stop offset="0.500" stop-color="#155594"/><stop offset="0.550" stop-color="#195d9a"/><stop offset="0.600" stop-color="#1e669f"/><stop offset="0.650" stop-color="#226ea4"/><stop offset="0.700" stop-color="#2473a7"/><stop offset="0.750" stop-color="#2475aa"/><stop offset="0.800" stop-color="#2575ab"/><stop offset="0.850" stop-color="#2576ad"/><stop offset="0.900" stop-color="#2777ad"/><stop offset="0.950" stop-color="#2a77aa"/><stop offset="1.000" stop-color="#2d76a8"/></linearGradient>
<linearGradient id="r42" gradientUnits="userSpaceOnUse" x1="0" x2="1500" y1="0" y2="0"><stop offset="0.000" stop-color="#003a70"/><stop offset="0.050" stop-color="#003a70"/><stop offset="0.100" stop-color="#00396f"/><stop offset="0.150" stop-color="#00396f"/><stop offset="0.200" stop-color="#003a70"/><stop offset="0.250" stop-color="#003c73"/><stop offset="0.300" stop-color="#033e79"/><stop offset="0.350" stop-color="#074180"/><stop offset="0.400" stop-color="#0c4688"/><stop offset="0.450" stop-color="#114d8e"/><stop offset="0.500" stop-color="#155594"/><stop offset="0.550" stop-color="#195e9a"/><stop offset="0.600" stop-color="#1e67a0"/><stop offset="0.650" stop-color="#226fa4"/><stop offset="0.700" stop-color="#2474a8"/><stop offset="0.750" stop-color="#2575aa"/><stop offset="0.800" stop-color="#2576ac"/><stop offset="0.850" stop-color="#2577ae"/><stop offset="0.900" stop-color="#2777ad"/><stop offset="0.950" stop-color="#2a77ab"/><stop offset="1.000" stop-color="#2d77a8"/></linearGradient>
<linearGradient id="r43" gradientUnits="userSpaceOnUse" x1="0" x2="1500" y1="0" y2="0"><stop offset="0.000" stop-color="#003a70"/><stop offset="0.050" stop-color="#003a70"/><stop offset="0.100" stop-color="#00396f"/><stop offset="0.150" stop-color="#00396f"/><stop offset="0.200" stop-color="#003a70"/><stop offset="0.250" stop-color="#003c73"/><stop offset="0.300" stop-color="#033e79"/><stop offset="0.350" stop-color="#074280"/><stop offset="0.400" stop-color="#0c4688"/><stop offset="0.450" stop-color="#114d8e"/><stop offset="0.500" stop-color="#155595"/><stop offset="0.550" stop-color="#195e9a"/><stop offset="0.600" stop-color="#1e67a0"/><stop offset="0.650" stop-color="#226fa5"/><stop offset="0.700" stop-color="#2474a8"/><stop offset="0.750" stop-color="#2576ab"/><stop offset="0.800" stop-color="#2577ad"/><stop offset="0.850" stop-color="#2678af"/><stop offset="0.900" stop-color="#2878ae"/><stop offset="0.950" stop-color="#2b78ab"/><stop offset="1.000" stop-color="#2e77a8"/></linearGradient>
<linearGradient id="r44" gradientUnits="userSpaceOnUse" x1="0" x2="1500" y1="0" y2="0"><stop offset="0.000" stop-color="#003a70"/><stop offset="0.050" stop-color="#003a6f"/><stop offset="0.100" stop-color="#00396f"/><stop offset="0.150" stop-color="#00396f"/><stop offset="0.200" stop-color="#003a70"/><stop offset="0.250" stop-color="#003c74"/><stop offset="0.300" stop-color="#033e79"/><stop offset="0.350" stop-color="#074280"/><stop offset="0.400" stop-color="#0c4788"/><stop offset="0.450" stop-color="#114d8f"/><stop offset="0.500" stop-color="#155595"/><stop offset="0.550" stop-color="#195e9b"/><stop offset="0.600" stop-color="#1e67a0"/><stop offset="0.650" stop-color="#2270a5"/><stop offset="0.700" stop-color="#2475a9"/><stop offset="0.750" stop-color="#2577ac"/><stop offset="0.800" stop-color="#2678ae"/><stop offset="0.850" stop-color="#2678b0"/><stop offset="0.900" stop-color="#2879af"/><stop offset="0.950" stop-color="#2b78ac"/><stop offset="1.000" stop-color="#2e78a9"/></linearGradient>
<linearGradient id="r45" gradientUnits="userSpaceOnUse" x1="0" x2="1500" y1="0" y2="0"><stop offset="0.000" stop-color="#003a70"/><stop offset="0.050" stop-color="#003a6f"/><stop offset="0.100" stop-color="#00396f"/><stop offset="0.150" stop-color="#00396f"/><stop offset="0.200" stop-color="#003a70"/><stop offset="0.250" stop-color="#013c74"/><stop offset="0.300" stop-color="#033e79"/><stop offset="0.350" stop-color="#074281"/><stop offset="0.400" stop-color="#0c4788"/><stop offset="0.450" stop-color="#114e8f"/><stop offset="0.500" stop-color="#155695"/><stop offset="0.550" stop-color="#195f9b"/><stop offset="0.600" stop-color="#1e68a1"/><stop offset="0.650" stop-color="#2270a5"/><stop offset="0.700" stop-color="#2475a9"/><stop offset="0.750" stop-color="#2678ac"/><stop offset="0.800" stop-color="#2679af"/><stop offset="0.850" stop-color="#2679b0"/><stop offset="0.900" stop-color="#2879b0"/><stop offset="0.950" stop-color="#2c79ac"/><stop offset="1.000" stop-color="#2e78a9"/></linearGradient>
<linearGradient id="r46" gradientUnits="userSpaceOnUse" x1="0" x2="1500" y1="0" y2="0"><stop offset="0.000" stop-color="#003a70"/><stop offset="0.050" stop-color="#003a6f"/><stop offset="0.100" stop-color="#00396f"/><stop offset="0.150" stop-color="#00396f"/><stop offset="0.200" stop-color="#003a70"/><stop offset="0.250" stop-color="#013b74"/><stop offset="0.300" stop-color="#033e7a"/><stop offset="0.350" stop-color="#074281"/><stop offset="0.400" stop-color="#0c4788"/><stop offset="0.450" stop-color="#114e8f"/><stop offset="0.500" stop-color="#155695"/><stop offset="0.550" stop-color="#195f9b"/><stop offset="0.600" stop-color="#1d68a1"/><stop offset="0.650" stop-color="#2170a6"/><stop offset="0.700" stop-color="#2476aa"/><stop offset="0.750" stop-color="#2678ad"/><stop offset="0.800" stop-color="#277aaf"/><stop offset="0.850" stop-color="#277ab1"/><stop offset="0.900" stop-color="#297ab0"/><stop offset="0.950" stop-color="#2c79ad"/><stop offset="1.000" stop-color="#2f79aa"/></linearGradient>
<linearGradient id="r47" gradientUnits="userSpaceOnUse" x1="0" x2="1500" y1="0" y2="0"><stop offset="0.000" stop-color="#003a70"/><stop offset="0.050" stop-color="#003a6f"/><stop offset="0.100" stop-color="#00396f"/><stop offset="0.150" stop-color="#00396f"/><stop offset="0.200" stop-color="#003a70"/><stop offset="0.250" stop-color="#013b74"/><stop offset="0.300" stop-color="#033e7a"/><stop offset="0.350" stop-color="#074281"/><stop offset="0.400" stop-color="#0c4788"/><stop offset="0.450" stop-color="#114e8f"/><stop offset="0.500" stop-color="#155696"/><stop offset="0.550" stop-color="#195f9b"/><stop offset="0.600" stop-color="#1d68a1"/><stop offset="0.650" stop-color="#2170a6"/><stop offset="0.700" stop-color="#2476aa"/><stop offset="0.750" stop-color="#2679ad"/><stop offset="0.800" stop-color="#277ab0"/><stop offset="0.850" stop-color="#287bb2"/><stop offset="0.900" stop-color="#2a7bb1"/><stop offset="0.950" stop-color="#2d7aad"/><stop offset="1.000" stop-color="#2f79aa"/></linearGradient>
<linearGradient id="r48" gradientUnits="userSpaceOnUse" x1="0" x2="1500" y1="0" y2="0"><stop offset="0.000" stop-color="#003a70"/><stop offset="0.050" stop-color="#003a6f"/><stop offset="0.100" stop-color="#00396f"/><stop offset="0.150" stop-color="#00396f"/><stop offset="0.200" stop-color="#003a71"/><stop offset="0.250" stop-color="#013b74"/><stop offset="0.300" stop-color="#033e7a"/><stop offset="0.350" stop-color="#074281"/><stop offset="0.400" stop-color="#0c4789"/><stop offset="0.450" stop-color="#114e8f"/><stop offset="0.500" stop-color="#155696"/><stop offset="0.550" stop-color="#195f9c"/><stop offset="0.600" stop-color="#1d68a1"/><stop offset="0.650" stop-color="#2170a6"/><stop offset="0.700" stop-color="#2576aa"/><stop offset="0.750" stop-color="#2779ae"/><stop offset="0.800" stop-color="#287bb1"/><stop offset="0.850" stop-color="#287cb3"/><stop offset="0.900" stop-color="#2a7bb2"/><stop offset="0.950" stop-color="#2d7bae"/><stop offset="1.000" stop-color="#307aaa"/></linearGradient>
<linearGradient id="r49" gradientUnits="userSpaceOnUse" x1="0" x2="1500" y1="0" y2="0"><stop offset="0.000" stop-color="#003a70"/><stop offset="0.050" stop-color="#003a6f"/><stop offset="0.100" stop-color="#00396f"/><stop offset="0.150" stop-color="#00396f"/><stop offset="0.200" stop-color="#003a71"/><stop offset="0.250" stop-color="#013b74"/><stop offset="0.300" stop-color="#033e7a"/><stop offset="0.350" stop-color="#074281"/><stop offset="0.400" stop-color="#0c4789"/><stop offset="0.450" stop-color="#114e90"/><stop offset="0.500" stop-color="#155696"/><stop offset="0.550" stop-color="#195f9c"/><stop offset="0.600" stop-color="#1d68a1"/><stop offset="0.650" stop-color="#2171a6"/><stop offset="0.700" stop-color="#2576aa"/><stop offset="0.750" stop-color="#277aae"/><stop offset="0.800" stop-color="#297cb1"/><stop offset="0.850" stop-color="#297db4"/><stop offset="0.900" stop-color="#2b7cb2"/><stop offset="0.950" stop-color="#2e7baf"/><stop offset="1.000" stop-color="#307bab"/></linearGradient>
<linearGradient id="r50" gradientUnits="userSpaceOnUse" x1="0" x2="1500" y1="0" y2="0"><stop offset="0.000" stop-color="#003a70"/><stop offset="0.050" stop-color="#00396f"/><stop offset="0.100" stop-color="#00396f"/><stop offset="0.150" stop-color="#00396f"/><stop offset="0.200" stop-color="#003a71"/><stop offset="0.250" stop-color="#013b75"/><stop offset="0.300" stop-color="#033e7a"/><stop offset="0.350" stop-color="#074282"/><stop offset="0.400" stop-color="#0c4789"/><stop offset="0.450" stop-color="#114e90"/><stop offset="0.500" stop-color="#155796"/><stop offset="0.550" stop-color="#195f9c"/><stop offset="0.600" stop-color="#1d68a1"/><stop offset="0.650" stop-color="#2171a6"/><stop offset="0.700" stop-color="#2577ab"/><stop offset="0.750" stop-color="#287bae"/><stop offset="0.800" stop-color="#2a7db2"/><stop offset="0.850" stop-color="#2a7db4"/><stop offset="0.900" stop-color="#2c7db3"/><stop offset="0.950" stop-color="#2e7caf"/><stop offset="1.000" stop-color="#317bab"/></linearGradient>
<linearGradient id="r51" gradientUnits="userSpaceOnUse" x1="0" x2="1500" y1="0" y2="0"><stop offset="0.000" stop-color="#003a70"/><stop offset="0.050" stop-color="#00396f"/><stop offset="0.100" stop-color="#00396f"/><stop offset="0.150" stop-color="#00396f"/><stop offset="0.200" stop-color="#003a71"/><stop offset="0.250" stop-color="#013b75"/><stop offset="0.300" stop-color="#033e7b"/><stop offset="0.350" stop-color="#074282"/><stop offset="0.400" stop-color="#0c4889"/><stop offset="0.450" stop-color="#114f90"/><stop offset="0.500" stop-color="#155796"/><stop offset="0.550" stop-color="#19609c"/><stop offset="0.600" stop-color="#1d69a2"/><stop offset="0.650" stop-color="#2171a7"/><stop offset="0.700" stop-color="#2577ab"/><stop offset="0.750" stop-color="#297baf"/><stop offset="0.800" stop-color="#2b7db2"/><stop offset="0.850" stop-color="#2c7eb5"/><stop offset="0.900" stop-color="#2d7eb3"/><stop offset="0.950" stop-color="#2f7db0"/><stop offset="1.000" stop-color="#317cac"/></linearGradient>
<linearGradient id="r52" gradientUnits="userSpaceOnUse" x1="0" x2="1500" y1="0" y2="0"><stop offset="0.000" stop-color="#003a70"/><stop offset="0.050" stop-color="#00396f"/><stop offset="0.100" stop-color="#00396e"/><stop offset="0.150" stop-color="#00396f"/><stop offset="0.200" stop-color="#003a71"/><stop offset="0.250" stop-color="#013b75"/><stop offset="0.300" stop-color="#033e7b"/><stop offset="0.350" stop-color="#074282"/><stop offset="0.400" stop-color="#0c4889"/><stop offset="0.450" stop-color="#114f90"/><stop offset="0.500" stop-color="#155796"/><stop offset="0.550" stop-color="#19609c"/><stop offset="0.600" stop-color="#1d69a2"/><stop offset="0.650" stop-color="#2171a7"/><stop offset="0.700" stop-color="#2577ab"/><stop offset="0.750" stop-color="#297caf"/><stop offset="0.800" stop-color="#2c7eb3"/><stop offset="0.850" stop-color="#2d7fb5"/><stop offset="0.900" stop-color="#2e7fb4"/><stop offset="0.950" stop-color="#307db0"/><stop offset="1.000" stop-color="#317dac"/></linearGradient>
<linearGradient id="r53" gradientUnits="userSpaceOnUse" x1="0" x2="1500" y1="0" y2="0"><stop offset="0.000" stop-color="#003a70"/><stop offset="0.050" stop-color="#00396f"/><stop offset="0.100" stop-color="#00396e"/><stop offset="0.150" stop-color="#00396f"/><stop offset="0.200" stop-color="#003a71"/><stop offset="0.250" stop-color="#013b75"/><stop offset="0.300" stop-color="#033e7b"/><stop offset="0.350" stop-color="#074282"/><stop offset="0.400" stop-color="#0c4889"/><stop offset="0.450" stop-color="#114f90"/><stop offset="0.500" stop-color="#155796"/><stop offset="0.550" stop-color="#19609c"/><stop offset="0.600" stop-color="#1c69a2"/><stop offset="0.650" stop-color="#2171a7"/><stop offset="0.700" stop-color="#2677ab"/><stop offset="0.750" stop-color="#2a7caf"/><stop offset="0.800" stop-color="#2e7fb3"/><stop offset="0.850" stop-color="#2f80b5"/><stop offset="0.900" stop-color="#2f7fb4"/><stop offset="0.950" stop-color="#307eb1"/><stop offset="1.000" stop-color="#317dad"/></linearGradient>
<linearGradient id="r54" gradientUnits="userSpaceOnUse" x1="0" x2="1500" y1="0" y2="0"><stop offset="0.000" stop-color="#003a70"/><stop offset="0.050" stop-color="#00396f"/><stop offset="0.100" stop-color="#00396e"/><stop offset="0.150" stop-color="#00396f"/><stop offset="0.200" stop-color="#003a71"/><stop offset="0.250" stop-color="#013b75"/><stop offset="0.300" stop-color="#033e7b"/><stop offset="0.350" stop-color="#074282"/><stop offset="0.400" stop-color="#0c4889"/><stop offset="0.450" stop-color="#114f90"/><stop offset="0.500" stop-color="#155797"/><stop offset="0.550" stop-color="#19609c"/><stop offset="0.600" stop-color="#1c69a2"/><stop offset="0.650" stop-color="#2171a7"/><stop offset="0.700" stop-color="#2678ab"/><stop offset="0.750" stop-color="#2b7db0"/><stop offset="0.800" stop-color="#2f80b3"/><stop offset="0.850" stop-color="#3181b6"/><stop offset="0.900" stop-color="#3180b5"/><stop offset="0.950" stop-color="#317fb1"/><stop offset="1.000" stop-color="#327ead"/></linearGradient>
<linearGradient id="r55" gradientUnits="userSpaceOnUse" x1="0" x2="1500" y1="0" y2="0"><stop offset="0.000" stop-color="#003a70"/><stop offset="0.050" stop-color="#00396f"/><stop offset="0.100" stop-color="#00396e"/><stop offset="0.150" stop-color="#00396f"/><stop offset="0.200" stop-color="#003a71"/><stop offset="0.250" stop-color="#013b75"/><stop offset="0.300" stop-color="#033e7b"/><stop offset="0.350" stop-color="#074282"/><stop offset="0.400" stop-color="#0c4889"/><stop offset="0.450" stop-color="#114f90"/><stop offset="0.500" stop-color="#155797"/><stop offset="0.550" stop-color="#19609c"/><stop offset="0.600" stop-color="#1c69a2"/><stop offset="0.650" stop-color="#2171a7"/><stop offset="0.700" stop-color="#2678ac"/><stop offset="0.750" stop-color="#2c7db0"/><stop offset="0.800" stop-color="#3180b4"/><stop offset="0.850" stop-color="#3382b6"/><stop offset="0.900" stop-color="#3281b5"/><stop offset="0.950" stop-color="#3280b1"/><stop offset="1.000" stop-color="#327fae"/></linearGradient>
<linearGradient id="r56" gradientUnits="userSpaceOnUse" x1="0" x2="1500" y1="0" y2="0"><stop offset="0.000" stop-color="#003a70"/><stop offset="0.050" stop-color="#00396f"/><stop offset="0.100" stop-color="#00396e"/><stop offset="0.150" stop-color="#00396f"/><stop offset="0.200" stop-color="#003a71"/><stop offset="0.250" stop-color="#013b75"/><stop offset="0.300" stop-color="#033e7b"/><stop offset="0.350" stop-color="#074282"/><stop offset="0.400" stop-color="#0c488a"/><stop offset="0.450" stop-color="#114f90"/><stop offset="0.500" stop-color="#155797"/><stop offset="0.550" stop-color="#19609c"/><stop offset="0.600" stop-color="#1c69a2"/><stop offset="0.650" stop-color="#2171a7"/><stop offset="0.700" stop-color="#2778ac"/><stop offset="0.750" stop-color="#2d7eb0"/><stop offset="0.800" stop-color="#3381b4"/><stop offset="0.850" stop-color="#3583b6"/><stop offset="0.900" stop-color="#3482b5"/><stop offset="0.950" stop-color="#3381b2"/><stop offset="1.000" stop-color="#327fae"/></linearGradient>
<linearGradient id="r57" gradientUnits="userSpaceOnUse" x1="0" x2="1500" y1="0" y2="0"><stop offset="0.000" stop-color="#003a70"/><stop offset="0.050" stop-color="#00396f"/><stop offset="0.100" stop-color="#00396e"/><stop offset="0.150" stop-color="#00396f"/><stop offset="0.200" stop-color="#003a71"/><stop offset="0.250" stop-color="#013b76"/><stop offset="0.300" stop-color="#033e7c"/><stop offset="0.350" stop-color="#074283"/><stop offset="0.400" stop-color="#0c488a"/><stop offset="0.450" stop-color="#114f90"/><stop offset="0.500" stop-color="#155797"/><stop offset="0.550" stop-color="#19609c"/><stop offset="0.600" stop-color="#1c69a2"/><stop offset="0.650" stop-color="#2171a7"/><stop offset="0.700" stop-color="#2778ac"/><stop offset="0.750" stop-color="#2f7eb0"/><stop offset="0.800" stop-color="#3582b4"/><stop offset="0.850" stop-color="#3783b7"/><stop offset="0.900" stop-color="#3683b6"/><stop offset="0.950" stop-color="#3381b2"/><stop offset="1.000" stop-color="#3380af"/></linearGradient>
<linearGradient id="r58" gradientUnits="userSpaceOnUse" x1="0" x2="1500" y1="0" y2="0"><stop offset="0.000" stop-color="#003a70"/><stop offset="0.050" stop-color="#00396f"/><stop offset="0.100" stop-color="#00396e"/><stop offset="0.150" stop-color="#00396f"/><stop offset="0.200" stop-color="#003a71"/><stop offset="0.250" stop-color="#013b76"/><stop offset="0.300" stop-color="#033e7c"/><stop offset="0.350" stop-color="#074283"/><stop offset="0.400" stop-color="#0c488a"/><stop offset="0.450" stop-color="#114f90"/><stop offset="0.500" stop-color="#165797"/><stop offset="0.550" stop-color="#19609c"/><stop offset="0.600" stop-color="#1c69a2"/><stop offset="0.650" stop-color="#2171a7"/><stop offset="0.700" stop-color="#2878ac"/><stop offset="0.750" stop-color="#307eb1"/><stop offset="0.800" stop-color="#3783b5"/><stop offset="0.850" stop-color="#3984b7"/><stop offset="0.900" stop-color="#3784b6"/><stop offset="0.950" stop-color="#3482b3"/><stop offset="1.000" stop-color="#3381af"/></linearGradient>
<linearGradient id="r59" gradientUnits="userSpaceOnUse" x1="0" x2="1500" y1="0" y2="0"><stop offset="0.000" stop-color="#003a70"/><stop offset="0.050" stop-color="#00396f"/><stop offset="0.100" stop-color="#00396e"/><stop offset="0.150" stop-color="#00396f"/><stop offset="0.200" stop-color="#003a71"/><stop offset="0.250" stop-color="#013b76"/><stop offset="0.300" stop-color="#033e7c"/><stop offset="0.350" stop-color="#074383"/><stop offset="0.400" stop-color="#0c488a"/><stop offset="0.450" stop-color="#115091"/><stop offset="0.500" stop-color="#165897"/><stop offset="0.550" stop-color="#19609c"/><stop offset="0.600" stop-color="#1c68a2"/><stop offset="0.650" stop-color="#2171a7"/><stop offset="0.700" stop-color="#2979ac"/><stop offset="0.750" stop-color="#317fb1"/><stop offset="0.800" stop-color="#3983b5"/><stop offset="0.850" stop-color="#3b85b7"/><stop offset="0.900" stop-color="#3985b6"/><stop offset="0.950" stop-color="#3583b3"/><stop offset="1.000" stop-color="#3481b0"/></linearGradient>
<linearGradient id="r60" gradientUnits="userSpaceOnUse" x1="0" x2="1500" y1="0" y2="0"><stop offset="0.000" stop-color="#003a70"/><stop offset="0.050" stop-color="#00396f"/><stop offset="0.100" stop-color="#00396e"/><stop offset="0.150" stop-color="#00396f"/><stop offset="0.200" stop-color="#003a71"/><stop offset="0.250" stop-color="#013b76"/><stop offset="0.300" stop-color="#033e7c"/><stop offset="0.350" stop-color="#074383"/><stop offset="0.400" stop-color="#0c488a"/><stop offset="0.450" stop-color="#115091"/><stop offset="0.500" stop-color="#165897"/><stop offset="0.550" stop-color="#19609d"/><stop offset="0.600" stop-color="#1c68a2"/><stop offset="0.650" stop-color="#2171a7"/><stop offset="0.700" stop-color="#2979ac"/><stop offset="0.750" stop-color="#337fb1"/><stop offset="0.800" stop-color="#3b84b5"/><stop offset="0.850" stop-color="#3e86b7"/><stop offset="0.900" stop-color="#3b85b6"/><stop offset="0.950" stop-color="#3684b3"/><stop offset="1.000" stop-color="#3482b0"/></linearGradient>
<linearGradient id="r61" gradientUnits="userSpaceOnUse" x1="0" x2="1500" y1="0" y2="0"><stop offset="0.000" stop-color="#003a70"/><stop offset="0.050" stop-color="#003a6f"/><stop offset="0.100" stop-color="#00396e"/><stop offset="0.150" stop-color="#00396f"/><stop offset="0.200" stop-color="#003a71"/><stop offset="0.250" stop-color="#013c76"/><stop offset="0.300" stop-color="#033e7c"/><stop offset="0.350" stop-color="#074383"/><stop offset="0.400" stop-color="#0c498a"/><stop offset="0.450" stop-color="#115091"/><stop offset="0.500" stop-color="#165897"/><stop offset="0.550" stop-color="#19609d"/><stop offset="0.600" stop-color="#1c68a2"/><stop offset="0.650" stop-color="#2171a7"/><stop offset="0.700" stop-color="#2a79ac"/><stop offset="0.750" stop-color="#3480b1"/><stop offset="0.800" stop-color="#3d85b6"/><stop offset="0.850" stop-color="#4087b8"/><stop offset="0.900" stop-color="#3c86b7"/><stop offset="0.950" stop-color="#3784b4"/><stop offset="1.000" stop-color="#3583b0"/></linearGradient>
<linearGradient id="r62" gradientUnits="userSpaceOnUse" x1="0" x2="1500" y1="0" y2="0"><stop offset="0.000" stop-color="#003a70"/><stop offset="0.050" stop-color="#003a6f"/><stop offset="0.100" stop-color="#00396e"/><stop offset="0.150" stop-color="#00396f"/><stop offset="0.200" stop-color="#003a72"/><stop offset="0.250" stop-color="#013c76"/><stop offset="0.300" stop-color="#033e7c"/><stop offset="0.350" stop-color="#074383"/><stop offset="0.400" stop-color="#0c498a"/><stop offset="0.450" stop-color="#125091"/><stop offset="0.500" stop-color="#165897"/><stop offset="0.550" stop-color="#1a609d"/><stop offset="0.600" stop-color="#1c68a2"/><stop offset="0.650" stop-color="#2171a7"/><stop offset="0.700" stop-color="#2b79ac"/><stop offset="0.750" stop-color="#3680b1"/><stop offset="0.800" stop-color="#3f85b6"/><stop offset="0.850" stop-color="#4388b8"/><stop offset="0.900" stop-color="#3e87b7"/><stop offset="0.950" stop-color="#3885b4"/><stop offset="1.000" stop-color="#3583b1"/></linearGradient>
<linearGradient id="r63" gradientUnits="userSpaceOnUse" x1="0" x2="1500" y1="0" y2="0"><stop offset="0.000" stop-color="#003a70"/><stop offset="0.050" stop-color="#003a6f"/><stop offset="0.100" stop-color="#00396e"/><stop offset="0.150" stop-color="#00396f"/><stop offset="0.200" stop-color="#003a72"/><stop offset="0.250" stop-color="#013c76"/><stop offset="0.300" stop-color="#033f7d"/><stop offset="0.350" stop-color="#074383"/><stop offset="0.400" stop-color="#0c498a"/><stop offset="0.450" stop-color="#125091"/><stop offset="0.500" stop-color="#175897"/><stop offset="0.550" stop-color="#1a609d"/><stop offset="0.600" stop-color="#1c68a2"/><stop offset="0.650" stop-color="#2171a7"/><stop offset="0.700" stop-color="#2c79ac"/><stop offset="0.750" stop-color="#3781b2"/><stop offset="0.800" stop-color="#4286b6"/><stop offset="0.850" stop-color="#4589b8"/><stop offset="0.900" stop-color="#4088b7"/><stop offset="0.950" stop-color="#3986b4"/><stop offset="1.000" stop-color="#3684b1"/></linearGradient>
<linearGradient id="r64" gradientUnits="userSpaceOnUse" x1="0" x2="1500" y1="0" y2="0"><stop offset="0.000" stop-color="#003a70"/><stop offset="0.050" stop-color="#003a6f"/><stop offset="0.100" stop-color="#00396f"/><stop offset="0.150" stop-color="#00396f"/><stop offset="0.200" stop-color="#003a72"/><stop offset="0.250" stop-color="#013c77"/><stop offset="0.300" stop-color="#033f7d"/><stop offset="0.350" stop-color="#074384"/><stop offset="0.400" stop-color="#0c498a"/><stop offset="0.450" stop-color="#125091"/><stop offset="0.500" stop-color="#175897"/><stop offset="0.550" stop-color="#1a609d"/><stop offset="0.600" stop-color="#1c68a2"/><stop offset="0.650" stop-color="#2171a7"/><stop offset="0.700" stop-color="#2c79ad"/><stop offset="0.750" stop-color="#3981b2"/><stop offset="0.800" stop-color="#4487b6"/><stop offset="0.850" stop-color="#4889b8"/><stop offset="0.900" stop-color="#4288b7"/><stop offset="0.950" stop-color="#3a86b4"/><stop offset="1.000" stop-color="#3785b1"/></linearGradient>
<linearGradient id="r65" gradientUnits="userSpaceOnUse" x1="0" x2="1500" y1="0" y2="0"><stop offset="0.000" stop-color="#003a70"/><stop offset="0.050" stop-color="#003a6f"/><stop offset="0.100" stop-color="#00396f"/><stop offset="0.150" stop-color="#00396f"/><stop offset="0.200" stop-color="#003a72"/><stop offset="0.250" stop-color="#013c77"/><stop offset="0.300" stop-color="#033f7d"/><stop offset="0.350" stop-color="#074384"/><stop offset="0.400" stop-color="#0c498a"/><stop offset="0.450" stop-color="#125091"/><stop offset="0.500" stop-color="#175897"/><stop offset="0.550" stop-color="#1a609d"/><stop offset="0.600" stop-color="#1c68a2"/><stop offset="0.650" stop-color="#2271a7"/><stop offset="0.700" stop-color="#2d7aad"/><stop offset="0.750" stop-color="#3b81b2"/><stop offset="0.800" stop-color="#4687b7"/><stop offset="0.850" stop-color="#4a8ab9"/><stop offset="0.900" stop-color="#4489b8"/><stop offset="0.950" stop-color="#3b87b5"/><stop offset="1.000" stop-color="#3786b2"/></linearGradient>
<linearGradient id="r66" gradientUnits="userSpaceOnUse" x1="0" x2="1500" y1="0" y2="0"><stop offset="0.000" stop-color="#003a70"/><stop offset="0.050" stop-color="#003a6f"/><stop offset="0.100" stop-color="#003a6f"/><stop offset="0.150" stop-color="#003a6f"/><stop offset="0.200" stop-color="#003a72"/><stop offset="0.250" stop-color="#013c77"/><stop offset="0.300" stop-color="#033f7d"/><stop offset="0.350" stop-color="#074384"/><stop offset="0.400" stop-color="#0d498b"/><stop offset="0.450" stop-color="#125191"/><stop offset="0.500" stop-color="#185897"/><stop offset="0.550" stop-color="#1b609d"/><stop offset="0.600" stop-color="#1c68a2"/><stop offset="0.650" stop-color="#2271a7"/><stop offset="0.700" stop-color="#2e7aad"/><stop offset="0.750" stop-color="#3c82b2"/><stop offset="0.800" stop-color="#4888b7"/><stop offset="0.850" stop-color="#4c8bb9"/><stop offset="0.900" stop-color="#458ab8"/><stop offset="0.950" stop-color="#3c88b5"/><stop offset="1.000" stop-color="#3886b2"/></linearGradient>
<linearGradient id="r67" gradientUnits="userSpaceOnUse" x1="0" x2="1500" y1="0" y2="0"><stop offset="0.000" stop-color="#003a70"/><stop offset="0.050" stop-color="#003a70"/><stop offset="0.100" stop-color="#003a6f"/><stop offset="0.150" stop-color="#003a6f"/><stop offset="0.200" stop-color="#003b72"/><stop offset="0.250" stop-color="#013c77"/><stop offset="0.300" stop-color="#043f7d"/><stop offset="0.350" stop-color="#074484"/><stop offset="0.400" stop-color="#0d4a8b"/><stop offset="0.450" stop-color="#135191"/><stop offset="0.500" stop-color="#185997"/><stop offset="0.550" stop-color="#1b619d"/><stop offset="0.600" stop-color="#1d68a2"/><stop offset="0.650" stop-color="#2371a7"/><stop offset="0.700" stop-color="#2f7aad"/><stop offset="0.750" stop-color="#3d82b2"/><stop offset="0.800" stop-color="#4a89b7"/><stop offset="0.850" stop-color="#4e8bb9"/><stop offset="0.900" stop-color="#478bb8"/><stop offset="0.950" stop-color="#3e88b5"/><stop offset="1.000" stop-color="#3987b2"/></linearGradient>
<linearGradient id="r68" gradientUnits="userSpaceOnUse" x1="0" x2="1500" y1="0" y2="0"><stop offset="0.000" stop-color="#003a70"/><stop offset="0.050" stop-color="#003a70"/><stop offset="0.100" stop-color="#003a6f"/><stop offset="0.150" stop-color="#003a6f"/><stop offset="0.200" stop-color="#003b72"/><stop offset="0.250" stop-color="#023d77"/><stop offset="0.300" stop-color="#043f7e"/><stop offset="0.350" stop-color="#084484"/><stop offset="0.400" stop-color="#0d4a8b"/><stop offset="0.450" stop-color="#135191"/><stop offset="0.500" stop-color="#185997"/><stop offset="0.550" stop-color="#1c619d"/><stop offset="0.600" stop-color="#1d69a2"/><stop offset="0.650" stop-color="#2371a7"/><stop offset="0.700" stop-color="#307aad"/><stop offset="0.750" stop-color="#3f82b2"/><stop offset="0.800" stop-color="#4c89b7"/><stop offset="0.850" stop-color="#508cb9"/><stop offset="0.900" stop-color="#498bb8"/><stop offset="0.950" stop-color="#3f89b5"/><stop offset="1.000" stop-color="#3b88b3"/></linearGradient>
<linearGradient id="r69" gradientUnits="userSpaceOnUse" x1="0" x2="1500" y1="0" y2="0"><stop offset="0.000" stop-color="#003a70"/><stop offset="0.050" stop-color="#003a70"/><stop offset="0.100" stop-color="#003a6f"/><stop offset="0.150" stop-color="#003a70"/><stop offset="0.200" stop-color="#013b73"/><stop offset="0.250" stop-color="#023d78"/><stop offset="0.300" stop-color="#04407e"/><stop offset="0.350" stop-color="#084484"/><stop offset="0.400" stop-color="#0d4a8b"/><stop offset="0.450" stop-color="#135191"/><stop offset="0.500" stop-color="#195997"/><stop offset="0.550" stop-color="#1c619d"/><stop offset="0.600" stop-color="#1e69a2"/><stop offset="0.650" stop-color="#2471a7"/><stop offset="0.700" stop-color="#317aad"/><stop offset="0.750" stop-color="#4083b3"/><stop offset="0.800" stop-color="#4d89b7"/><stop offset="0.850" stop-color="#528db9"/><stop offset="0.900" stop-color="#4a8cb8"/><stop offset="0.950" stop-color="#418ab6"/><stop offset="1.000" stop-color="#3c88b3"/></linearGradient>
<linearGradient id="r70" gradientUnits="userSpaceOnUse" x1="0" x2="1500" y1="0" y2="0"><stop offset="0.000" stop-color="#003a71"/><stop offset="0.050" stop-color="#003a70"/><stop offset="0.100" stop-color="#003a6f"/><stop offset="0.150" stop-color="#003a70"/><stop offset="0.200" stop-color="#013b73"/><stop offset="0.250" stop-color="#023d78"/><stop offset="0.300" stop-color="#04407e"/><stop offset="0.350" stop-color="#084485"/><stop offset="0.400" stop-color="#0e4a8b"/><stop offset="0.450" stop-color="#145191"/><stop offset="0.500" stop-color="#195997"/><stop offset="0.550" stop-color="#1d619d"/><stop offset="0.600" stop-color="#1f69a2"/><stop offset="0.650" stop-color="#2571a7"/><stop offset="0.700" stop-color="#327bad"/><stop offset="0.750" stop-color="#4183b3"/><stop offset="0.800" stop-color="#4f8ab7"/><stop offset="0.850" stop-color="#538db9"/><stop offset="0.900" stop-color="#4b8cb8"/><stop offset="0.950" stop-color="#428ab6"/><stop offset="1.000" stop-color="#3d89b4"/></linearGradient>
</defs>
<rect x="0" y="0" width="1500" height="12" fill="url(#r0)"/>
<rect x="0" y="12" width="1500" height="12" fill="url(#r1)"/>
<rect x="0" y="24" width="1500" height="12" fill="url(#r2)"/>
<rect x="0" y="36" width="1500" height="12" fill="url(#r3)"/>
<rect x="0" y="48" width="1500" height="12" fill="url(#r4)"/>
<rect x="0" y="60" width="1500" height="12" fill="url(#r5)"/>
<rect x="0" y="72" width="1500" height="12" fill="url(#r6)"/>
<rect x="0" y="84" width="1500" height="12" fill="url(#r7)"/>
<rect x="0" y="96" width="1500" height="12" fill="url(#r8)"/>
<rect x="0" y="108" width="1500" height="12" fill="url(#r9)"/>
<rect x="0" y="120" width="1500" height="12" fill="url(#r10)"/>
<rect x="0" y="132" width="1500" height="12" fill="url(#r11)"/>
<rect x="0" y="144" width="1500" height="12" fill="url(#r12)"/>
<rect x="0" y="156" width="1500" height="12" fill="url(#r13)"/>
<rect x="0" y="168" width="1500" height="12" fill="url(#r14)"/>
<rect x="0" y="180" width="1500" height="12" fill="url(#r15)"/>
<rect x="0" y="192" width="1500" height="12" fill="url(#r16)"/>
<rect x="0" y="204" width="1500" height="12" fill="url(#r17)"/>
<rect x="0" y="216" width="1500" height="12" fill="url(#r18)"/>
<rect x="0" y="228" width="1500" height="12" fill="url(#r19)"/>
<rect x="0" y="240" width="1500" height="12" fill="url(#r20)"/>
<rect x="0" y="252" width="1500" height="12" fill="url(#r21)"/>
<rect x="0" y="264" width="1500" height="12" fill="url(#r22)"/>
<rect x="0" y="276" width="1500" height="12" fill="url(#r23)"/>
<rect x="0" y="288" width="1500" height="12" fill="url(#r24)"/>
<rect x="0" y="300" width="1500" height="12" fill="url(#r25)"/>
<rect x="0" y="312" width="1500" height="12" fill="url(#r26)"/>
<rect x="0" y="324" width="1500" height="12" fill="url(#r27)"/>
<rect x="0" y="336" width="1500" height="12" fill="url(#r28)"/>
<rect x="0" y="348" width="1500" height="12" fill="url(#r29)"/>
<rect x="0" y="360" width="1500" height="12" fill="url(#r30)"/>
<rect x="0" y="372" width="1500" height="12" fill="url(#r31)"/>
<rect x="0" y="384" width="1500" height="12" fill="url(#r32)"/>
<rect x="0" y="396" width="1500" height="12" fill="url(#r33)"/>
<rect x="0" y="408" width="1500" height="12" fill="url(#r34)"/>
<rect x="0" y="420" width="1500" height="12" fill="url(#r35)"/>
<rect x="0" y="432" width="1500" height="12" fill="url(#r36)"/>
<rect x="0" y="444" width="1500" height="12" fill="url(#r37)"/>
<rect x="0" y="456" width="1500" height="12" fill="url(#r38)"/>
<rect x="0" y="468" width="1500" height="12" fill="url(#r39)"/>
<rect x="0" y="480" width="1500" height="12" fill="url(#r40)"/>
<rect x="0" y="492" width="1500" height="12" fill="url(#r41)"/>
<rect x="0" y="504" width="1500" height="12" fill="url(#r42)"/>
<rect x="0" y="516" width="1500" height="12" fill="url(#r43)"/>
<rect x="0" y="528" width="1500" height="12" fill="url(#r44)"/>
<rect x="0" y="540" width="1500" height="12" fill="url(#r45)"/>
<rect x="0" y="552" width="1500" height="12" fill="url(#r46)"/>
<rect x="0" y="564" width="1500" height="12" fill="url(#r47)"/>
<rect x="0" y="576" width="1500" height="12" fill="url(#r48)"/>
<rect x="0" y="588" width="1500" height="12" fill="url(#r49)"/>
<rect x="0" y="600" width="1500" height="12" fill="url(#r50)"/>
<rect x="0" y="612" width="1500" height="12" fill="url(#r51)"/>
<rect x="0" y="624" width="1500" height="12" fill="url(#r52)"/>
<rect x="0" y="636" width="1500" height="12" fill="url(#r53)"/>
<rect x="0" y="648" width="1500" height="12" fill="url(#r54)"/>
<rect x="0" y="660" width="1500" height="12" fill="url(#r55)"/>
<rect x="0" y="672" width="1500" height="12" fill="url(#r56)"/>
<rect x="0" y="684" width="1500" height="12" fill="url(#r57)"/>
<rect x="0" y="696" width="1500" height="12" fill="url(#r58)"/>
<rect x="0" y="708" width="1500" height="12" fill="url(#r59)"/>
<rect x="0" y="720" width="1500" height="12" fill="url(#r60)"/>
<rect x="0" y="732" width="1500" height="12" fill="url(#r61)"/>
<rect x="0" y="744" width="1500" height="12" fill="url(#r62)"/>
<rect x="0" y="756" width="1500" height="12" fill="url(#r63)"/>
<rect x="0" y="768" width="1500" height="12" fill="url(#r64)"/>
<rect x="0" y="780" width="1500" height="12" fill="url(#r65)"/>
<rect x="0" y="792" width="1500" height="12" fill="url(#r66)"/>
<rect x="0" y="804" width="1500" height="12" fill="url(#r67)"/>
<rect x="0" y="816" width="1500" height="12" fill="url(#r68)"/>
<rect x="0" y="828" width="1500" height="12" fill="url(#r69)"/>
<rect x="0" y="840" width="1500" height="12" fill="url(#r70)"/>
</svg>
<svg class="abs" style="left:0;top:0" width="1500" height="845" viewBox="0 0 1500 845">
<g fill="none" stroke="#a8d4ff" stroke-opacity="0.16" stroke-width="1.2">
<path d="M1085,250 L1150,232 L1230,222 L1300,216 L1365,220 Q1372,240 1370,262 Q1372,285 1400,300 L1470,330 L1500,342"/>
<path d="M1080,232 L1120,226 M1140,222 L1185,214 M1200,212 L1260,208 M1280,206 L1330,204"/>
<path d="M1080,338 Q1180,318 1300,318 Q1420,320 1500,350"/>
<path d="M1080,380 Q1200,360 1320,362 Q1440,368 1500,385"/>
<path d="M1080,420 Q1230,395 1380,402 Q1460,410 1500,420"/>
<path d="M1195,490 L1195,420 Q1200,405 1230,402 L1330,400 Q1370,400 1380,430 L1385,495"/>
<path d="M1365,520 Q1370,345 1440,345 Q1500,345 1500,360"/>
<ellipse cx="1350" cy="415" rx="18" ry="9"/>
<path d="M1160,495 h40 v-14 h-40 z M1215,492 h40 v-14 h-40 z M1270,490 h40 v-14 h-40 z M1325,492 h40 v-14 h-40 z"/>
<path d="M1100,640 Q1180,560 1280,540 Q1390,520 1470,560 L1500,580"/>
<path d="M1160,480 Q1180,540 1180,620 Q1175,700 1110,760"/>
<path d="M1260,470 Q1250,560 1270,640 Q1300,720 1380,760"/>
<path d="M1440,520 Q1470,600 1460,700 Q1450,780 1400,845"/>
<ellipse cx="1350" cy="660" rx="16" ry="10"/><ellipse cx="1465" cy="650" rx="14" ry="12"/>
<path d="M1090,570 L1100,540 L1120,520 M1085,700 L1120,680 L1180,670"/>
<path d="M860,845 L900,780 M950,845 L975,790 M1040,845 L1060,790 M700,845 L715,805"/>
</g>
<defs><filter id="db" x="-100%" y="-100%" width="300%" height="300%"><feGaussianBlur stdDeviation="0.8"/></filter></defs>
<g fill="#d6ecff" filter="url(#db)">
<circle cx="1216" cy="174" r="2.3" fill-opacity="0.24"/>
<circle cx="1305" cy="193" r="1.8" fill-opacity="0.34"/>
<circle cx="1096" cy="199" r="1.9" fill-opacity="0.25"/>
<circle cx="1258" cy="234" r="1.9" fill-opacity="0.28"/>
<circle cx="1344" cy="245" r="2.3" fill-opacity="0.31"/>
<circle cx="1490" cy="164" r="2.5" fill-opacity="0.29"/>
<circle cx="1141" cy="171" r="2.0" fill-opacity="0.41"/>
<circle cx="1156" cy="212" r="2.3" fill-opacity="0.31"/>
<circle cx="1310" cy="166" r="1.8" fill-opacity="0.27"/>
<circle cx="1366" cy="198" r="2.1" fill-opacity="0.36"/>
<circle cx="1270" cy="187" r="2.4" fill-opacity="0.38"/>
<circle cx="1183" cy="212" r="2.2" fill-opacity="0.42"/>
<circle cx="1386" cy="186" r="2.6" fill-opacity="0.25"/>
<circle cx="1256" cy="228" r="1.9" fill-opacity="0.34"/>
<circle cx="1096" cy="220" r="2.4" fill-opacity="0.35"/>
<circle cx="1448" cy="188" r="2.4" fill-opacity="0.36"/>
<circle cx="1324" cy="201" r="2.5" fill-opacity="0.44"/>
<circle cx="1279" cy="220" r="1.8" fill-opacity="0.38"/>
<circle cx="1352" cy="249" r="2.5" fill-opacity="0.29"/>
<circle cx="1242" cy="220" r="1.8" fill-opacity="0.33"/>
<circle cx="1151" cy="171" r="1.8" fill-opacity="0.40"/>
<circle cx="1134" cy="182" r="2.1" fill-opacity="0.42"/>
<circle cx="1114" cy="200" r="2.2" fill-opacity="0.42"/>
<circle cx="1424" cy="238" r="2.0" fill-opacity="0.32"/>
<circle cx="1231" cy="240" r="2.6" fill-opacity="0.26"/>
<circle cx="1154" cy="181" r="2.0" fill-opacity="0.33"/>
<circle cx="1327" cy="184" r="1.8" fill-opacity="0.32"/>
<circle cx="1235" cy="211" r="2.6" fill-opacity="0.38"/>
<circle cx="1297" cy="216" r="2.3" fill-opacity="0.24"/>
<circle cx="1458" cy="230" r="2.5" fill-opacity="0.40"/>
<circle cx="1245" cy="196" r="1.9" fill-opacity="0.37"/>
<circle cx="1106" cy="166" r="2.0" fill-opacity="0.26"/>
<circle cx="1223" cy="165" r="1.8" fill-opacity="0.26"/>
<circle cx="1123" cy="193" r="1.8" fill-opacity="0.42"/>
<circle cx="1338" cy="173" r="2.0" fill-opacity="0.30"/>
<circle cx="1233" cy="171" r="2.5" fill-opacity="0.45"/>
<circle cx="1276" cy="204" r="1.9" fill-opacity="0.25"/>
<circle cx="1224" cy="184" r="2.5" fill-opacity="0.26"/>
<circle cx="1090" cy="246" r="2.2" fill-opacity="0.26"/>
<circle cx="1308" cy="162" r="2.2" fill-opacity="0.45"/>
<circle cx="1443" cy="223" r="2.0" fill-opacity="0.31"/>
<circle cx="1150" cy="229" r="2.2" fill-opacity="0.40"/>
<circle cx="1218" cy="180" r="2.4" fill-opacity="0.45"/>
<circle cx="1438" cy="233" r="2.5" fill-opacity="0.39"/>
<circle cx="1175" cy="207" r="2.1" fill-opacity="0.23"/>
<circle cx="1092" cy="185" r="2.0" fill-opacity="0.38"/>
<circle cx="1482" cy="200" r="2.5" fill-opacity="0.45"/>
<circle cx="1481" cy="193" r="2.0" fill-opacity="0.28"/>
<circle cx="1163" cy="178" r="2.3" fill-opacity="0.43"/>
<circle cx="1433" cy="203" r="2.3" fill-opacity="0.40"/>
<circle cx="1116" cy="219" r="2.5" fill-opacity="0.40"/>
<circle cx="1395" cy="203" r="1.9" fill-opacity="0.40"/>
<circle cx="1220" cy="232" r="2.6" fill-opacity="0.31"/>
<circle cx="1249" cy="245" r="2.4" fill-opacity="0.26"/>
<circle cx="1133" cy="174" r="2.5" fill-opacity="0.41"/>
<circle cx="1141" cy="234" r="2.6" fill-opacity="0.37"/>
<circle cx="1227" cy="209" r="1.9" fill-opacity="0.23"/>
<circle cx="1488" cy="218" r="2.2" fill-opacity="0.44"/>
<circle cx="1262" cy="238" r="2.5" fill-opacity="0.27"/>
<circle cx="1186" cy="186" r="2.0" fill-opacity="0.36"/>
<circle cx="1189" cy="284" r="1.6" fill-opacity="0.38"/>
<circle cx="1229" cy="287" r="2.0" fill-opacity="0.38"/>
<circle cx="1257" cy="323" r="1.9" fill-opacity="0.31"/>
<circle cx="1300" cy="251" r="1.9" fill-opacity="0.24"/>
<circle cx="1082" cy="314" r="1.6" fill-opacity="0.29"/>
<circle cx="1385" cy="295" r="1.8" fill-opacity="0.30"/>
<circle cx="1313" cy="313" r="1.6" fill-opacity="0.31"/>
<circle cx="1184" cy="272" r="2.1" fill-opacity="0.30"/>
<circle cx="1316" cy="311" r="2.2" fill-opacity="0.29"/>
<circle cx="1337" cy="290" r="1.9" fill-opacity="0.34"/>
<circle cx="1270" cy="293" r="1.9" fill-opacity="0.39"/>
<circle cx="1374" cy="320" r="2.3" fill-opacity="0.25"/>
<circle cx="1315" cy="325" r="2.2" fill-opacity="0.23"/>
<circle cx="1131" cy="285" r="1.6" fill-opacity="0.25"/>
<circle cx="1111" cy="304" r="2.1" fill-opacity="0.38"/>
<circle cx="1145" cy="307" r="2.0" fill-opacity="0.23"/>
<circle cx="1451" cy="327" r="1.7" fill-opacity="0.39"/>
<circle cx="1247" cy="289" r="2.3" fill-opacity="0.37"/>
<circle cx="1148" cy="285" r="1.9" fill-opacity="0.27"/>
<circle cx="1162" cy="275" r="2.1" fill-opacity="0.20"/>
<circle cx="1313" cy="285" r="1.5" fill-opacity="0.27"/>
<circle cx="1342" cy="291" r="1.6" fill-opacity="0.40"/>
<circle cx="1411" cy="328" r="1.6" fill-opacity="0.25"/>
<circle cx="1097" cy="312" r="1.7" fill-opacity="0.23"/>
<circle cx="1257" cy="323" r="2.2" fill-opacity="0.25"/>
<circle cx="1143" cy="324" r="2.0" fill-opacity="0.34"/>
<circle cx="1118" cy="255" r="2.1" fill-opacity="0.29"/>
<circle cx="1110" cy="325" r="2.0" fill-opacity="0.36"/>
<circle cx="1115" cy="318" r="1.6" fill-opacity="0.37"/>
<circle cx="1271" cy="277" r="1.9" fill-opacity="0.39"/>
<circle cx="1193" cy="260" r="1.9" fill-opacity="0.25"/>
<circle cx="1126" cy="263" r="1.5" fill-opacity="0.24"/>
<circle cx="1211" cy="274" r="2.1" fill-opacity="0.26"/>
<circle cx="1290" cy="264" r="1.8" fill-opacity="0.20"/>
<circle cx="1185" cy="251" r="2.1" fill-opacity="0.31"/>
<circle cx="1160" cy="420" r="2.2" fill-opacity="0.19"/>
<circle cx="1424" cy="412" r="1.8" fill-opacity="0.32"/>
<circle cx="1245" cy="426" r="2.0" fill-opacity="0.35"/>
<circle cx="1224" cy="488" r="2.0" fill-opacity="0.29"/>
<circle cx="1250" cy="396" r="1.5" fill-opacity="0.20"/>
<circle cx="1110" cy="471" r="1.7" fill-opacity="0.20"/>
<circle cx="1115" cy="490" r="2.1" fill-opacity="0.29"/>
<circle cx="1198" cy="376" r="1.7" fill-opacity="0.26"/>
<circle cx="1146" cy="415" r="1.7" fill-opacity="0.34"/>
<circle cx="1489" cy="434" r="1.7" fill-opacity="0.34"/>
<circle cx="1210" cy="398" r="1.5" fill-opacity="0.24"/>
<circle cx="1279" cy="426" r="1.6" fill-opacity="0.26"/>
<circle cx="1082" cy="380" r="1.6" fill-opacity="0.24"/>
<circle cx="1098" cy="334" r="1.7" fill-opacity="0.22"/>
<circle cx="1326" cy="431" r="2.0" fill-opacity="0.29"/>
<circle cx="1381" cy="497" r="1.8" fill-opacity="0.23"/>
<circle cx="1494" cy="358" r="2.0" fill-opacity="0.29"/>
<circle cx="1098" cy="489" r="2.1" fill-opacity="0.28"/>
<circle cx="1388" cy="484" r="1.6" fill-opacity="0.27"/>
<circle cx="1292" cy="489" r="2.1" fill-opacity="0.32"/>
<circle cx="1325" cy="500" r="2.0" fill-opacity="0.30"/>
<circle cx="1177" cy="336" r="1.6" fill-opacity="0.24"/>
<circle cx="1124" cy="489" r="1.9" fill-opacity="0.28"/>
<circle cx="1343" cy="459" r="1.8" fill-opacity="0.18"/>
<circle cx="1415" cy="472" r="1.9" fill-opacity="0.27"/>
<circle cx="1357" cy="343" r="2.0" fill-opacity="0.22"/>
<circle cx="1111" cy="380" r="2.0" fill-opacity="0.21"/>
<circle cx="1391" cy="515" r="1.8" fill-opacity="0.24"/>
<circle cx="1281" cy="460" r="2.0" fill-opacity="0.28"/>
<circle cx="1350" cy="345" r="1.6" fill-opacity="0.22"/>
<circle cx="1392" cy="388" r="1.9" fill-opacity="0.18"/>
<circle cx="1105" cy="381" r="2.0" fill-opacity="0.30"/>
<circle cx="1364" cy="385" r="1.9" fill-opacity="0.26"/>
<circle cx="1276" cy="353" r="2.1" fill-opacity="0.21"/>
<circle cx="1491" cy="508" r="1.5" fill-opacity="0.26"/>
<circle cx="1424" cy="514" r="1.8" fill-opacity="0.22"/>
<circle cx="1168" cy="510" r="1.6" fill-opacity="0.28"/>
<circle cx="1140" cy="430" r="2.2" fill-opacity="0.20"/>
<circle cx="1424" cy="427" r="2.1" fill-opacity="0.30"/>
<circle cx="1177" cy="501" r="1.8" fill-opacity="0.18"/>
<circle cx="1091" cy="670" r="1.9" fill-opacity="0.21"/>
<circle cx="1148" cy="619" r="1.8" fill-opacity="0.29"/>
<circle cx="1091" cy="759" r="2.3" fill-opacity="0.18"/>
<circle cx="1470" cy="746" r="2.3" fill-opacity="0.21"/>
<circle cx="1243" cy="636" r="2.4" fill-opacity="0.25"/>
<circle cx="1238" cy="648" r="1.7" fill-opacity="0.17"/>
<circle cx="1132" cy="788" r="1.8" fill-opacity="0.31"/>
<circle cx="1192" cy="592" r="2.0" fill-opacity="0.19"/>
<circle cx="1243" cy="830" r="2.3" fill-opacity="0.29"/>
<circle cx="1349" cy="815" r="2.3" fill-opacity="0.25"/>
<circle cx="1385" cy="517" r="2.2" fill-opacity="0.23"/>
<circle cx="1399" cy="722" r="1.8" fill-opacity="0.17"/>
<circle cx="1470" cy="544" r="1.9" fill-opacity="0.21"/>
<circle cx="1212" cy="755" r="2.4" fill-opacity="0.20"/>
<circle cx="1359" cy="604" r="2.0" fill-opacity="0.22"/>
<circle cx="1159" cy="556" r="1.7" fill-opacity="0.30"/>
<circle cx="1294" cy="576" r="2.3" fill-opacity="0.32"/>
<circle cx="1274" cy="548" r="1.7" fill-opacity="0.17"/>
<circle cx="1230" cy="531" r="1.7" fill-opacity="0.20"/>
<circle cx="1324" cy="806" r="2.2" fill-opacity="0.23"/>
<circle cx="1260" cy="681" r="1.8" fill-opacity="0.21"/>
<circle cx="1115" cy="596" r="2.4" fill-opacity="0.18"/>
<circle cx="1296" cy="717" r="2.3" fill-opacity="0.19"/>
<circle cx="1201" cy="586" r="1.9" fill-opacity="0.23"/>
<circle cx="1481" cy="793" r="2.3" fill-opacity="0.16"/>
<circle cx="1103" cy="745" r="2.3" fill-opacity="0.24"/>
<circle cx="1331" cy="500" r="1.9" fill-opacity="0.31"/>
<circle cx="1428" cy="795" r="2.4" fill-opacity="0.20"/>
<circle cx="1135" cy="553" r="2.0" fill-opacity="0.27"/>
<circle cx="1476" cy="749" r="2.1" fill-opacity="0.28"/>
<circle cx="1278" cy="690" r="1.5" fill-opacity="0.29"/>
<circle cx="1185" cy="817" r="2.1" fill-opacity="0.21"/>
<circle cx="1142" cy="587" r="2.1" fill-opacity="0.27"/>
<circle cx="1136" cy="524" r="2.0" fill-opacity="0.25"/>
<circle cx="1249" cy="577" r="2.0" fill-opacity="0.16"/>
<circle cx="1214" cy="659" r="2.4" fill-opacity="0.26"/>
<circle cx="1452" cy="664" r="1.7" fill-opacity="0.20"/>
<circle cx="1484" cy="743" r="1.8" fill-opacity="0.16"/>
<circle cx="1294" cy="733" r="1.9" fill-opacity="0.20"/>
<circle cx="1364" cy="819" r="1.7" fill-opacity="0.17"/>
<circle cx="1229" cy="645" r="2.1" fill-opacity="0.19"/>
<circle cx="1417" cy="755" r="2.0" fill-opacity="0.19"/>
<circle cx="1488" cy="608" r="2.2" fill-opacity="0.20"/>
<circle cx="1181" cy="762" r="1.8" fill-opacity="0.31"/>
<circle cx="1293" cy="565" r="1.7" fill-opacity="0.23"/>
<circle cx="1363" cy="827" r="1.6" fill-opacity="0.22"/>
<circle cx="1177" cy="836" r="1.6" fill-opacity="0.17"/>
<circle cx="1115" cy="636" r="2.3" fill-opacity="0.30"/>
<circle cx="1390" cy="844" r="2.3" fill-opacity="0.21"/>
<circle cx="1166" cy="823" r="2.2" fill-opacity="0.17"/>
<circle cx="1362" cy="631" r="1.8" fill-opacity="0.21"/>
<circle cx="1159" cy="501" r="1.8" fill-opacity="0.22"/>
<circle cx="1482" cy="543" r="2.4" fill-opacity="0.19"/>
<circle cx="1236" cy="783" r="2.2" fill-opacity="0.23"/>
<circle cx="1110" cy="663" r="1.8" fill-opacity="0.31"/>
<circle cx="1169" cy="626" r="2.3" fill-opacity="0.16"/>
<circle cx="1258" cy="780" r="2.2" fill-opacity="0.17"/>
<circle cx="1104" cy="522" r="2.3" fill-opacity="0.20"/>
<circle cx="1396" cy="810" r="1.8" fill-opacity="0.20"/>
<circle cx="1483" cy="713" r="1.7" fill-opacity="0.27"/>
<circle cx="1220" cy="595" r="1.5" fill-opacity="0.28"/>
<circle cx="1466" cy="719" r="2.3" fill-opacity="0.16"/>
<circle cx="1186" cy="664" r="2.4" fill-opacity="0.31"/>
<circle cx="1248" cy="587" r="1.9" fill-opacity="0.24"/>
<circle cx="1471" cy="563" r="2.2" fill-opacity="0.28"/>
<circle cx="1427" cy="767" r="2.0" fill-opacity="0.21"/>
<circle cx="1221" cy="625" r="2.2" fill-opacity="0.17"/>
<circle cx="1171" cy="760" r="1.7" fill-opacity="0.17"/>
<circle cx="1104" cy="691" r="1.8" fill-opacity="0.32"/>
<circle cx="1452" cy="841" r="1.7" fill-opacity="0.17"/>
<circle cx="1130" cy="672" r="2.1" fill-opacity="0.23"/>
<circle cx="1186" cy="644" r="2.1" fill-opacity="0.27"/>
<circle cx="1397" cy="792" r="2.1" fill-opacity="0.18"/>
<circle cx="1435" cy="601" r="2.0" fill-opacity="0.22"/>
<circle cx="1393" cy="569" r="1.7" fill-opacity="0.20"/>
<circle cx="1153" cy="805" r="2.0" fill-opacity="0.21"/>
<circle cx="1252" cy="842" r="2.0" fill-opacity="0.20"/>
<circle cx="1421" cy="725" r="2.4" fill-opacity="0.18"/>
<circle cx="1285" cy="783" r="2.3" fill-opacity="0.31"/>
<circle cx="1107" cy="601" r="1.6" fill-opacity="0.19"/>
<circle cx="1082" cy="818" r="2.0" fill-opacity="0.19"/>
<circle cx="1012" cy="809" r="1.5" fill-opacity="0.25"/>
<circle cx="1064" cy="787" r="1.7" fill-opacity="0.23"/>
<circle cx="584" cy="804" r="1.4" fill-opacity="0.17"/>
<circle cx="608" cy="819" r="1.8" fill-opacity="0.17"/>
<circle cx="448" cy="801" r="1.8" fill-opacity="0.17"/>
<circle cx="646" cy="793" r="1.9" fill-opacity="0.22"/>
<circle cx="482" cy="787" r="1.6" fill-opacity="0.22"/>
<circle cx="862" cy="786" r="1.4" fill-opacity="0.24"/>
<circle cx="710" cy="798" r="1.5" fill-opacity="0.27"/>
<circle cx="646" cy="817" r="1.6" fill-opacity="0.20"/>
<circle cx="1010" cy="845" r="1.6" fill-opacity="0.17"/>
<circle cx="921" cy="793" r="1.3" fill-opacity="0.27"/>
<circle cx="720" cy="833" r="1.6" fill-opacity="0.26"/>
<circle cx="744" cy="791" r="1.3" fill-opacity="0.22"/>
<circle cx="863" cy="839" r="1.4" fill-opacity="0.23"/>
<circle cx="685" cy="813" r="1.4" fill-opacity="0.18"/>
<circle cx="784" cy="840" r="1.4" fill-opacity="0.21"/>
<circle cx="971" cy="843" r="1.4" fill-opacity="0.16"/>
<circle cx="1062" cy="843" r="1.6" fill-opacity="0.15"/>
<circle cx="1051" cy="805" r="1.9" fill-opacity="0.23"/>
<circle cx="984" cy="790" r="1.9" fill-opacity="0.17"/>
<circle cx="707" cy="835" r="1.9" fill-opacity="0.17"/>
<circle cx="584" cy="806" r="1.7" fill-opacity="0.19"/>
<circle cx="521" cy="796" r="1.8" fill-opacity="0.27"/>
<circle cx="467" cy="817" r="1.8" fill-opacity="0.15"/>
<circle cx="993" cy="788" r="1.7" fill-opacity="0.22"/>
<circle cx="854" cy="800" r="1.6" fill-opacity="0.22"/>
<circle cx="721" cy="823" r="1.6" fill-opacity="0.20"/>
<circle cx="455" cy="820" r="1.6" fill-opacity="0.17"/>
<circle cx="944" cy="831" r="1.6" fill-opacity="0.17"/>
<circle cx="752" cy="787" r="1.4" fill-opacity="0.20"/>
<circle cx="501" cy="809" r="1.7" fill-opacity="0.15"/>
<circle cx="860" cy="785" r="1.8" fill-opacity="0.25"/>
<circle cx="778" cy="784" r="1.7" fill-opacity="0.19"/>
<circle cx="1073" cy="189" r="1.9" fill-opacity="0.28"/>
<circle cx="1042" cy="433" r="1.4" fill-opacity="0.28"/>
<circle cx="1009" cy="484" r="1.9" fill-opacity="0.16"/>
<circle cx="1050" cy="475" r="1.3" fill-opacity="0.19"/>
<circle cx="1046" cy="197" r="1.9" fill-opacity="0.18"/>
<circle cx="1054" cy="192" r="1.7" fill-opacity="0.27"/>
<circle cx="969" cy="235" r="1.7" fill-opacity="0.18"/>
<circle cx="945" cy="206" r="1.4" fill-opacity="0.27"/>
<circle cx="1035" cy="462" r="1.4" fill-opacity="0.25"/>
<circle cx="956" cy="331" r="1.7" fill-opacity="0.19"/>
<circle cx="1062" cy="340" r="1.7" fill-opacity="0.26"/>
<circle cx="955" cy="497" r="1.7" fill-opacity="0.20"/>
<circle cx="1052" cy="235" r="2.0" fill-opacity="0.22"/>
<circle cx="990" cy="415" r="1.6" fill-opacity="0.16"/>
<circle cx="1044" cy="157" r="1.9" fill-opacity="0.18"/>
<circle cx="1029" cy="494" r="1.7" fill-opacity="0.23"/>
<circle cx="984" cy="141" r="1.3" fill-opacity="0.16"/>
<circle cx="1026" cy="296" r="1.7" fill-opacity="0.27"/>
<circle cx="958" cy="222" r="1.8" fill-opacity="0.14"/>
<circle cx="940" cy="268" r="1.4" fill-opacity="0.19"/>
<circle cx="971" cy="350" r="1.7" fill-opacity="0.17"/>
<circle cx="1027" cy="311" r="1.4" fill-opacity="0.27"/>
<circle cx="974" cy="194" r="1.4" fill-opacity="0.23"/>
<circle cx="1062" cy="422" r="1.6" fill-opacity="0.18"/>
<circle cx="942" cy="372" r="1.7" fill-opacity="0.19"/>
</g>
<path d="M1460,318 L1500,330 L1500,345 L1462,340 Z" fill="#9ccfff" fill-opacity="0.25"/>
</svg>
<svg class="abs" style="left:0;top:0" width="1500" height="845" viewBox="0 0 1500 845">
<defs>
<linearGradient id="badge" x1="0" x2="1" y1="0" y2="0"><stop offset="0" stop-color="#7e6322"/><stop offset="1" stop-color="#a8852a"/></linearGradient>
<linearGradient id="frame" x1="0" x2="1" y1="0" y2="0"><stop offset="0" stop-color="#8a7226"/><stop offset="0.5" stop-color="#98781e"/><stop offset="1" stop-color="#9e822c"/></linearGradient>
<linearGradient id="coin" x1="0.15" y1="0.1" x2="0.85" y2="0.9"><stop offset="0" stop-color="#ecdcaa"/><stop offset="0.5" stop-color="#dcb86a"/><stop offset="1" stop-color="#d29e30"/></linearGradient>
<linearGradient id="bar" x1="0" x2="1" y1="0" y2="0"><stop offset="0" stop-color="#0256ad"/><stop offset="1" stop-color="#2484dc"/></linearGradient>
<linearGradient id="sdn" x1="0" x2="1" y1="0" y2="0"><stop offset="0" stop-color="#0054ab"/><stop offset="0.5" stop-color="#1a74c8"/><stop offset="1" stop-color="#3896de"/></linearGradient>
<linearGradient id="lcl" gradientUnits="userSpaceOnUse" x1="580" x2="943" y1="0" y2="0"><stop offset="0" stop-color="#52a8e6"/><stop offset="1" stop-color="#72b8ea"/></linearGradient>
<clipPath id="cl"><rect x="570" y="380" width="380" height="68"/></clipPath>
<filter id="blur2" x="-50%" y="-50%" width="200%" height="200%"><feGaussianBlur stdDeviation="2"/></filter>
<filter id="blur1" x="-50%" y="-50%" width="200%" height="200%"><feGaussianBlur stdDeviation="1"/></filter>
<filter id="glow" x="-50%" y="-50%" width="200%" height="200%"><feGaussianBlur stdDeviation="1.2"/></filter>
<filter id="fshadow" x="-20%" y="-20%" width="140%" height="140%"><feGaussianBlur stdDeviation="3"/></filter>
</defs>
<rect x="41.5" y="41.5" width="255" height="73" fill="url(#badge)" stroke="#a89a6a" stroke-width="1.5"/>
<line x1="438.5" y1="42" x2="438.5" y2="114" stroke="#dfe8f2" stroke-width="1"/>
<rect x="0" y="128" width="438" height="3.5" fill="#ffffff"/>
<rect x="438" y="129.8" width="1003" height="1.4" fill="#e8f0f8"/>
<rect x="549" y="200" width="425" height="126" fill="url(#frame)"/>
<polygon points="549,200 561,212 561,310 549,326" fill="#7e6420" opacity="0.45"/>
<polygon points="549,326 561,313 962,313 974,326" fill="#b59b58" opacity="0.35"/>
<polygon points="561,212 962,212 889,240 637,240" fill="#574419"/>
<polygon points="561,212 637,240 637,317 561,312" fill="#463a1c"/>
<polygon points="962,212 889,240 889,317 962,312" fill="#4a3914"/>
<rect x="637" y="240" width="252" height="77" fill="#44402a"/>
<polygon points="561,312 637,317 889,317 962,312 962,313 561,313" fill="#5c5030"/>
<rect x="549" y="258.5" width="425" height="5" fill="#9a7c28"/>
<rect x="549" y="259.8" width="425" height="1.3" fill="#b89a40" opacity="0.8"/>
<rect x="780" y="212" width="5.5" height="47" fill="#9a7c28"/>
<rect x="782" y="212" width="1.3" height="47" fill="#b89a40" opacity="0.8"/>
<rect x="549" y="310" width="425" height="3.5" fill="#9a7c28"/>
<rect x="561" y="212" width="401" height="98" fill="none" stroke="#a4862c" stroke-width="1.5"/>
<polygon points="549,313.5 974,313.5 974,326 549,326" fill="#98782a" opacity="0.6"/>
<circle cx="588.5" cy="238.0" r="15.5" fill="#1e1a0c" opacity="0.5" filter="url(#blur2)"/>
<circle cx="586" cy="235.5" r="15" fill="url(#coin)"/>
<g transform="translate(586,235.5)"><path d="M-2.8,-6.8 H2.8 L1.2,-3.6 Q6.5,-0.5 6,4.5 Q5.6,7.6 2.6,7.6 H-2.6 Q-5.6,7.6 -6,4.5 Q-6.5,-0.5 -1.2,-3.6 Z" fill="none" stroke="#ffffff" stroke-width="1.3"/><path d="M-2.5,-3.6 H2.5" stroke="#ffffff" stroke-width="1"/></g>
<circle cx="631.1" cy="238.0" r="15.5" fill="#1e1a0c" opacity="0.5" filter="url(#blur2)"/>
<circle cx="628.6" cy="235.5" r="15" fill="url(#coin)"/>
<g transform="translate(628.6,235.5)"><path d="M-6,1 A6,5.2 0 0 1 0.5,-4.8 H3" fill="none" stroke="#ffffff" stroke-width="1.5"/><path d="M2.5,-7.5 L6,-4.8 L2.5,-2 Z" fill="#ffffff"/><path d="M6.5,-0.5 A6,5.2 0 0 1 0,5.2 H-2.5" fill="none" stroke="#ffffff" stroke-width="1.5"/><path d="M-2,2.5 L-5.5,5.2 L-2,8 Z" fill="#ffffff"/></g>
<circle cx="673.5" cy="238.0" r="15.5" fill="#1e1a0c" opacity="0.5" filter="url(#blur2)"/>
<circle cx="671" cy="235.5" r="15" fill="url(#coin)"/>
<g transform="translate(671,235.5)"><rect x="-9.5" y="-3.6" width="7.5" height="7.2" fill="#ffffff"/><circle cx="-7.2" cy="0" r="1" fill="#a88a50"/><rect x="-2.5" y="-1.2" width="11.5" height="2.6" fill="#ffffff"/><path d="M3.5,1 h2 v2.2 h-2 z M6.8,1 h2.2 v2.2 h-2.2z" fill="#ffffff"/></g>
<circle cx="716.5" cy="238.0" r="15.5" fill="#1e1a0c" opacity="0.5" filter="url(#blur2)"/>
<circle cx="714" cy="235.5" r="15" fill="url(#coin)"/>
<g transform="translate(714,235.5)"><path d="M-3,-7 H5.5 V7.5 H-5.5 V-4.5 Z" fill="none" stroke="#ffffff" stroke-width="0.9"/><path d="M-5.5,-4.5 H-3 V-7" fill="none" stroke="#ffffff" stroke-width="0.9"/><path d="M5.5,-5 V7.5" stroke="#ffffff" stroke-width="1.6"/><path d="M0,-3 V5" stroke="#ffffff" stroke-width="0.8" stroke-dasharray="1,1.3"/></g>
<circle cx="759.5" cy="238.0" r="15.5" fill="#1e1a0c" opacity="0.5" filter="url(#blur2)"/>
<circle cx="757" cy="235.5" r="15" fill="url(#coin)"/>
<g transform="translate(757,235.5)"><path d="M-6,7.5 V3.5 Q-8.5,0 -7.5,-3.5 Q-6,-8.5 0,-8.5 Q6,-8.5 6.8,-3 L8.2,0.5 L6.8,1.2 V4 Q6.5,5.5 4,5.2 V7.5 Z" fill="#ffffff"/><g stroke="#9a8a60" stroke-width="0.8" fill="#9a8a60"><path d="M-3,-5 L0,-2 L3.5,-4.5 M0,-2 L-2,1.5 M0,-2 L2.5,1"/><circle cx="-3" cy="-5" r="1.1"/><circle cx="3.5" cy="-4.5" r="1.1"/><circle cx="0" cy="-2" r="1.1"/><circle cx="-2" cy="1.5" r="1"/><circle cx="2.5" cy="1" r="1"/></g></g>
<circle cx="811.5" cy="238.0" r="15.5" fill="#1e1a0c" opacity="0.5" filter="url(#blur2)"/>
<circle cx="809" cy="235.5" r="15" fill="url(#coin)"/>
<g transform="translate(809,235.5)"><circle cx="-3.3" cy="-5" r="2.1" fill="#ffffff"/><circle cx="3.6" cy="-5" r="2.1" fill="#ffffff"/><path d="M-6.8,3.5 V-1 Q-6.8,-2.8 -5,-2.8 H-1.6 Q0,-2.8 0,-1 V3.5 Z M0.6,3.5 V-1 Q0.6,-2.8 2.2,-2.8 H5.2 Q7,-2.8 7,-1 V3.5 Z" fill="#ffffff"/><rect x="-9" y="3.8" width="18" height="2.6" fill="#ffffff"/></g>
<circle cx="854.5" cy="238.0" r="15.5" fill="#1e1a0c" opacity="0.5" filter="url(#blur2)"/>
<circle cx="852" cy="235.5" r="15" fill="url(#coin)"/>
<g transform="translate(852,235.5)"><path d="M-1.5,-7 H5 V7 H-5 V-3.5 Z" fill="#ffffff"/><path d="M-5,-3.5 H-1.5 V-7" fill="none" stroke="#b48a2e" stroke-width="0.6"/><path d="M-3.2,-0.5 H3.4 M-3.2,2.2 H3.4 M-3.2,4.8 H3.4" stroke="#b48a2e" stroke-width="0.8"/></g>
<circle cx="896.5" cy="238.0" r="15.5" fill="#1e1a0c" opacity="0.5" filter="url(#blur2)"/>
<circle cx="894" cy="235.5" r="15" fill="url(#coin)"/>
<g transform="translate(894,235.5)"><rect x="-7.2" y="-4.8" width="14.4" height="10" fill="#ffffff"/><path d="M-7,-4.6 L0,1.5 L7,-4.6" fill="none" stroke="#a08450" stroke-width="1"/></g>
<circle cx="940.0" cy="238.0" r="15.5" fill="#1e1a0c" opacity="0.5" filter="url(#blur2)"/>
<circle cx="937.5" cy="235.5" r="15" fill="url(#coin)"/>
<g transform="translate(937.5,235.5)"><path d="M-5.5,-7.5 L0,0 L5.5,-7.5 M0,0 V8 M-4.5,0.5 H4.5 M-4.5,3.5 H4.5" fill="none" stroke="#ffffff" stroke-width="2"/></g>
<circle cx="588.5" cy="289.0" r="15.5" fill="#1e1a0c" opacity="0.5" filter="url(#blur2)"/>
<circle cx="586" cy="286.5" r="15" fill="url(#coin)"/>
<g transform="translate(586,286.5)"><rect x="-7.5" y="-5.5" width="15" height="11" fill="#ffffff"/><g stroke="#b08e40" stroke-width="0.9"><path d="M-7.5,-1.8 H7.5 M-7.5,1.8 H7.5"/><path d="M-3,-5.5 V-1.8 M3,-5.5 V-1.8 M0,-1.8 V1.8 M-5.5,-1.8 V1.8 M5.5,-1.8 V1.8 M-3,1.8 V5.5 M3,1.8 V5.5"/></g></g>
<circle cx="638.5" cy="289.0" r="15.5" fill="#1e1a0c" opacity="0.5" filter="url(#blur2)"/>
<circle cx="636" cy="286.5" r="15" fill="url(#coin)"/>
<g transform="translate(636,286.5)"><path d="M-6,7.5 V0 L-4,-3 L-2,0 V7.5 Z" fill="#ffffff"/><path d="M-1,7.5 V-4 L-3,-4 L0,-8.5 L3,-4 L1,-4 V7.5 Z" fill="#ffffff"/><path d="M3,7.5 V-2.5 L1.5,-2.5 L4.2,-6.5 L7,-2.5 L5.5,-2.5 V7.5 Z" fill="#ffffff"/></g>
<circle cx="688.5" cy="289.0" r="15.5" fill="#1e1a0c" opacity="0.5" filter="url(#blur2)"/>
<circle cx="686" cy="286.5" r="15" fill="url(#coin)"/>
<g transform="translate(686,286.5)"><path d="M-5.5,-7 H4.5 L6,-8 V8 H-5.5 Z" fill="none" stroke="#ffffff" stroke-width="1.2"/><path d="M-5.5,-2 H6 M-5.5,3 H6" stroke="#ffffff" stroke-width="1.2"/><path d="M-5.5,-7 V8" stroke="#ffffff" stroke-width="2"/></g>
<circle cx="738.5" cy="289.0" r="15.5" fill="#1e1a0c" opacity="0.5" filter="url(#blur2)"/>
<circle cx="736" cy="286.5" r="15" fill="url(#coin)"/>
<g transform="translate(736,286.5)"><rect x="-6" y="-1.5" width="12" height="9" fill="none" stroke="#ffffff" stroke-width="1"/><path d="M-3.5,-1.5 V-4 A3.5,3.5 0 0 1 3.5,-4 V-1.5" fill="none" stroke="#ffffff" stroke-width="1"/><path d="M0,1.2 V5" stroke="#ffffff" stroke-width="1.1"/></g>
<circle cx="788.5" cy="289.0" r="15.5" fill="#1e1a0c" opacity="0.5" filter="url(#blur2)"/>
<circle cx="786" cy="286.5" r="15" fill="url(#coin)"/>
<g transform="translate(786,286.5)"><circle cx="0" cy="0" r="7" fill="none" stroke="#ffffff" stroke-width="1.2" stroke-dasharray="5,0.8"/><circle cx="0" cy="0" r="4" fill="none" stroke="#b8a070" stroke-width="1"/></g>
<circle cx="839.5" cy="289.0" r="15.5" fill="#1e1a0c" opacity="0.5" filter="url(#blur2)"/>
<circle cx="837" cy="286.5" r="15" fill="url(#coin)"/>
<g transform="translate(837,286.5)"><g stroke="#ffffff" stroke-width="1.1"><path d="M0,0 L-5,-0.5 M0,0 L-1.5,-6.5 M0,0 L6,-3.5 M0,0 L5.5,3.5 M0,0 L-1.5,6"/></g><circle cx="0" cy="0" r="2.6" fill="#ffffff"/><circle cx="-5.5" cy="-0.5" r="1.8" fill="#ffffff"/><circle cx="-1.5" cy="-6.5" r="1.3" fill="#ffffff"/><circle cx="6" cy="-3.5" r="1.6" fill="#ffffff"/><circle cx="5.5" cy="3.5" r="1.2" fill="#ffffff"/><circle cx="-1.5" cy="6.3" r="2.2" fill="#ffffff"/></g>
<circle cx="889.5" cy="289.0" r="15.5" fill="#1e1a0c" opacity="0.5" filter="url(#blur2)"/>
<circle cx="887" cy="286.5" r="15" fill="url(#coin)"/>
<g transform="translate(887,286.5)"><circle cx="0" cy="0" r="7" fill="none" stroke="#ffffff" stroke-width="1.6" stroke-dasharray="3,1"/><g stroke="#ffffff" stroke-width="0.7" fill="none"><path d="M-4,-3 L3,-5 L5,2 L-1,5 L-5,2 Z M-4,-3 L5,2 M3,-5 L-1,5"/></g></g>
<circle cx="940.0" cy="289.0" r="15.5" fill="#1e1a0c" opacity="0.5" filter="url(#blur2)"/>
<circle cx="937.5" cy="286.5" r="15" fill="url(#coin)"/>
<g transform="translate(937.5,286.5)"><rect x="-5" y="-7" width="10" height="14" rx="1" fill="#ffffff"/><rect x="-3" y="-5" width="6" height="5" fill="#a89060"/></g>
<polygon points="568,333 602,326.5 928,326.5 960,333" fill="#387ec2"/>
<rect x="562" y="333" width="399" height="27" fill="url(#bar)"/>
<polygon points="478,462 597,408 929,408 1047,462" fill="url(#sdn)"/>
<rect x="478" y="461" width="569" height="4.5" fill="#0b3f88"/>
<g fill="url(#lcl)" clip-path="url(#cl)">
<circle cx="599" cy="441" r="18"/>
<circle cx="625" cy="437" r="13"/>
<circle cx="650" cy="432" r="14"/>
<circle cx="688" cy="421" r="19"/>
<circle cx="718" cy="428" r="16"/>
<circle cx="745" cy="424" r="18"/>
<circle cx="776" cy="423.5" r="24"/>
<circle cx="806" cy="427" r="17"/>
<circle cx="835" cy="425" r="15"/>
<circle cx="870" cy="428" r="16"/>
<circle cx="903" cy="438" r="15"/>
<circle cx="930" cy="442" r="10"/>
<rect x="580" y="436" width="363" height="12" rx="2"/>
</g>
<g fill="#0a3480" transform="translate(593,0)"><circle cx="20" cy="400" r="20"/><circle cx="51" cy="393" r="26"/><circle cx="76" cy="405" r="15"/><rect x="0" y="398" width="92" height="22" rx="9"/></g>
<g fill="#0a3480" transform="translate(839,0)"><circle cx="20" cy="400" r="20"/><circle cx="51" cy="393" r="26"/><circle cx="76" cy="405" r="15"/><rect x="0" y="398" width="92" height="22" rx="9"/></g>
<g fill="none" stroke="#fff" stroke-width="2.4"><rect x="630" y="394" width="21" height="14" rx="2.5"/><path d="M634.5,394 v-4 a6,6 0 0 1 12,0 v4"/></g>
<rect x="639.3" y="399" width="2.4" height="5" fill="#fff"/><circle cx="640.5" cy="399.5" r="1.8" fill="#fff"/>
<g fill="none" stroke="#fff" stroke-width="1.5"><circle cx="884" cy="396" r="12"/><ellipse cx="884" cy="396" rx="5.5" ry="12"/><line x1="872" y1="396" x2="896" y2="396"/><line x1="884" y1="384" x2="884" y2="408"/><path d="M874,389 h20 M874,403 h20"/></g>
<rect x="422" y="506" width="662" height="271" fill="#ffffff"/>
<polygon points="389.5,641 423,625 423,656" fill="#ffffff"/>
<polygon points="218,581 266,609 266,581 315,609 315,581 365,611.5 365,683 218,683" fill="#001a40" opacity="0.55" filter="url(#fshadow)" transform="translate(3,3)"/>
<polygon points="218,581 266,609 266,581 315,609 315,581 365,611.5 365,683 218,683" fill="#ffffff"/>
<rect x="228.6" y="638.5" width="26" height="8" rx="2" fill="#0a3a78"/>
<rect x="262" y="638.5" width="26" height="8" rx="2" fill="#0a3a78"/>
<rect x="295.8" y="638.5" width="26" height="8" rx="2" fill="#0a3a78"/>
<rect x="329.6" y="638.5" width="26" height="8" rx="2" fill="#0a3a78"/>
<rect x="527.3" y="616.3" width="452.5" height="4" fill="#0a3c87"/>
<rect x="527.3" y="616.3" width="4" height="84" fill="#0a3c87"/>
<rect x="751.2" y="600" width="3.8" height="100" fill="#0a3c87"/>
<rect x="975.8" y="616.3" width="4" height="84" fill="#0a3c87"/>
<polygon points="702.6,541.7 748,541.7 763.5,530.4 720,530.4" fill="#0d3a80"/>
<polygon points="748.5,541.7 763.5,530.4 763.5,590 748.5,602.4" fill="#0d3a80"/>
<rect x="702.6" y="541.7" width="45.4" height="60.7" fill="#0d3a80"/>
<path d="M702.6,541.7 H748 L763.5,530.4 M748,541.7 V602.4" stroke="#fff" stroke-width="1" fill="none"/>
<rect x="707" y="546.9" width="35.7" height="8.9" fill="#fff"/>
<circle cx="738.2" cy="551.35" r="1.9" fill="#0d3a80"/>
<rect x="707" y="561.2" width="35.7" height="8.9" fill="#fff"/>
<circle cx="738.2" cy="565.6500000000001" r="1.9" fill="#0d3a80"/>
<rect x="707" y="575.1" width="35.7" height="8.9" fill="#fff"/>
<circle cx="738.2" cy="579.5500000000001" r="1.9" fill="#0d3a80"/>
<rect x="707" y="589.4" width="35.7" height="8.9" fill="#fff"/>
<circle cx="738.2" cy="593.85" r="1.9" fill="#0d3a80"/>
<polygon points="748.6,559.2 799.3,559.2 803.8,552.7 757.7,552.7" fill="#0d3a80"/>
<polygon points="799.3,559.2 803.8,552.7 803.8,597.6 799.3,602.4" fill="#0d3a80"/>
<rect x="748.6" y="559.2" width="50.7" height="43.2" fill="#0d3a80"/>
<path d="M748.6,602.4 V559.2 H799.3 L803.8,552.7 M799.3,559.2 V602.4" stroke="#fff" stroke-width="1" fill="none"/>
<text x="774" y="587.8" text-anchor="middle" font-family="Liberation Sans, sans-serif" font-weight="bold" font-size="17.5" fill="#fff">GW</text>
<g transform="translate(496.6,0)"><rect x="-11" y="629.2" width="22" height="37.7" rx="11" fill="#0d3a80"/><path d="M-7.5,654.2 H7.5 V657.5 A7.5,7.5 0 0 1 -7.5,657.5 Z" fill="#fff"/><circle cx="-4.8" cy="638" r="1.25" fill="#fff"/><circle cx="0" cy="638" r="1.25" fill="#fff"/><circle cx="5" cy="638" r="1.25" fill="#fff"/><circle cx="-4.8" cy="643" r="1.25" fill="#fff"/><circle cx="0" cy="643" r="1.25" fill="#fff"/><circle cx="5" cy="643" r="1.25" fill="#fff"/><circle cx="-4.8" cy="648" r="1.25" fill="#fff"/><circle cx="0" cy="648" r="1.25" fill="#fff"/><circle cx="5" cy="648" r="1.25" fill="#fff"/><path d="M-16.3,650 V656 A16.3,16.3 0 0 0 16.3,656 V650" fill="none" stroke="#0d3a80" stroke-width="4.6"/><rect x="-1.9" y="672" width="3.8" height="9" fill="#0d3a80"/><rect x="-5.2" y="682" width="10.4" height="3.8" fill="#0d3a80"/></g>
<g transform="translate(721.5,0)"><rect x="-11" y="629.2" width="22" height="37.7" rx="11" fill="#0d3a80"/><path d="M-7.5,654.2 H7.5 V657.5 A7.5,7.5 0 0 1 -7.5,657.5 Z" fill="#fff"/><circle cx="-4.8" cy="638" r="1.25" fill="#fff"/><circle cx="0" cy="638" r="1.25" fill="#fff"/><circle cx="5" cy="638" r="1.25" fill="#fff"/><circle cx="-4.8" cy="643" r="1.25" fill="#fff"/><circle cx="0" cy="643" r="1.25" fill="#fff"/><circle cx="5" cy="643" r="1.25" fill="#fff"/><circle cx="-4.8" cy="648" r="1.25" fill="#fff"/><circle cx="0" cy="648" r="1.25" fill="#fff"/><circle cx="5" cy="648" r="1.25" fill="#fff"/><path d="M-16.3,650 V656 A16.3,16.3 0 0 0 16.3,656 V650" fill="none" stroke="#0d3a80" stroke-width="4.6"/><rect x="-1.9" y="672" width="3.8" height="9" fill="#0d3a80"/><rect x="-5.2" y="682" width="10.4" height="3.8" fill="#0d3a80"/></g>
<g transform="translate(944.2,0)"><rect x="-11" y="629.2" width="22" height="37.7" rx="11" fill="#0d3a80"/><path d="M-7.5,654.2 H7.5 V657.5 A7.5,7.5 0 0 1 -7.5,657.5 Z" fill="#fff"/><circle cx="-4.8" cy="638" r="1.25" fill="#fff"/><circle cx="0" cy="638" r="1.25" fill="#fff"/><circle cx="5" cy="638" r="1.25" fill="#fff"/><circle cx="-4.8" cy="643" r="1.25" fill="#fff"/><circle cx="0" cy="643" r="1.25" fill="#fff"/><circle cx="5" cy="643" r="1.25" fill="#fff"/><circle cx="-4.8" cy="648" r="1.25" fill="#fff"/><circle cx="0" cy="648" r="1.25" fill="#fff"/><circle cx="5" cy="648" r="1.25" fill="#fff"/><path d="M-16.3,650 V656 A16.3,16.3 0 0 0 16.3,656 V650" fill="none" stroke="#0d3a80" stroke-width="4.6"/><rect x="-1.9" y="672" width="3.8" height="9" fill="#0d3a80"/><rect x="-5.2" y="682" width="10.4" height="3.8" fill="#0d3a80"/></g>
<g transform="translate(544.6,635)" fill="#0d3a80"><path d="M0.3,10.6 L48.3,0.3 Q51,-0.2 51.9,3.2 L52.3,4.3 L4.8,15.8 Z"/><path d="M8.7,19.4 L52,9 L54.3,20 L43.5,22.6 A7.2,7.2 0 0 0 29.6,26.3 L18.2,29.5 Z"/><path d="M2.2,19.1 L9.4,25 L3.9,26 Z"/><circle cx="36.1" cy="24.6" r="3.9"/><path d="M38.5,32.5 L42.5,30 L49,36.5 L45,40.5 Z"/><path d="M47.5,35.5 L54.9,30.5 L54.9,45.1 L48.5,40.5 Z"/></g>
<g transform="translate(769,635)" fill="#0d3a80"><path d="M0.3,10.6 L48.3,0.3 Q51,-0.2 51.9,3.2 L52.3,4.3 L4.8,15.8 Z"/><path d="M8.7,19.4 L52,9 L54.3,20 L43.5,22.6 A7.2,7.2 0 0 0 29.6,26.3 L18.2,29.5 Z"/><path d="M2.2,19.1 L9.4,25 L3.9,26 Z"/><circle cx="36.1" cy="24.6" r="3.9"/><path d="M38.5,32.5 L42.5,30 L49,36.5 L45,40.5 Z"/><path d="M47.5,35.5 L54.9,30.5 L54.9,45.1 L48.5,40.5 Z"/></g>
<g transform="translate(993.4,635)" fill="#0d3a80"><path d="M0.3,10.6 L48.3,0.3 Q51,-0.2 51.9,3.2 L52.3,4.3 L4.8,15.8 Z"/><path d="M8.7,19.4 L52,9 L54.3,20 L43.5,22.6 A7.2,7.2 0 0 0 29.6,26.3 L18.2,29.5 Z"/><path d="M2.2,19.1 L9.4,25 L3.9,26 Z"/><circle cx="36.1" cy="24.6" r="3.9"/><path d="M38.5,32.5 L42.5,30 L49,36.5 L45,40.5 Z"/><path d="M47.5,35.5 L54.9,30.5 L54.9,45.1 L48.5,40.5 Z"/></g>
<g fill="#9a9fa6">
<polygon points="497.6,745 516.7,745 518.7,758.4 495,758.4"/>
<rect x="500" y="699" width="16" height="40"/>
<polygon points="505,693 515,692 547,716 540,729"/>
</g>
<circle cx="506.6" cy="736.8" r="10" fill="#9a9fa6" stroke="#fff" stroke-width="1.3"/><circle cx="506.6" cy="736.8" r="3" fill="#fff"/>
<circle cx="509" cy="699" r="9.8" fill="#9a9fa6" stroke="#fff" stroke-width="1.3"/><circle cx="509" cy="699" r="3" fill="#fff"/>
<path d="M546,714 a12,12 0 0 1 14,17" fill="none" stroke="#9a9fa6" stroke-width="4.5"/>
<path d="M535,730 a11,11 0 0 0 18,10" fill="none" stroke="#9a9fa6" stroke-width="4.5"/>
<circle cx="542.3" cy="722.7" r="7.6" fill="#9a9fa6" stroke="#fff" stroke-width="1.3"/><circle cx="542.3" cy="722.7" r="1.8" fill="#fff"/>
<path d="M736,696 L744,689.5 H765 L773,696 V730 a3,3 0 0 1 -3,3 H739 a3,3 0 0 1 -3,-3 Z" fill="#9a9fa6"/>
<path d="M741,708.5 H768 V727 H741 Z" fill="#fff"/>
<rect x="708.6" y="738.6" width="89.7" height="20.8" rx="10.4" fill="#9a9fa6"/>
<circle cx="719.5" cy="749" r="1.6" fill="#fff"/><circle cx="788" cy="749" r="1.6" fill="#fff"/>
<rect x="732" y="741.8" width="1.4" height="14.5" fill="#fff"/>
<rect x="747" y="741.8" width="1.4" height="14.5" fill="#fff"/>
<rect x="761" y="741.8" width="1.4" height="14.5" fill="#fff"/>
<rect x="776" y="741.8" width="1.4" height="14.5" fill="#fff"/>
<polygon points="1004.5,725.5 1009.5,733.7 1003.2,733.8 1005.4,743.2 999.3,741.4 998.5,750.9 993.4,747.3 989.6,756.2 985.8,751.2 979.6,758.4 977.5,752.5 969.3,757.5 969.2,751.2 959.8,753.4 961.6,747.3 952.1,746.5 955.7,741.4 946.8,737.6 951.8,733.8 944.6,727.6 950.5,725.5 945.5,717.3 951.8,717.2 949.6,707.8 955.7,709.6 956.5,700.1 961.6,703.7 965.4,694.8 969.2,699.8 975.4,692.6 977.5,698.5 985.7,693.5 985.8,699.8 995.2,697.6 993.4,703.7 1002.9,704.5 999.3,709.6 1008.2,713.4 1003.2,717.2 1010.4,723.4" fill="#9a9fa6"/>
<circle cx="977.5" cy="725.5" r="13.3" fill="none" stroke="#fff" stroke-width="1.5"/>
<circle cx="977.5" cy="725.5" r="7" fill="#fff"/>
<circle cx="528.7" cy="700.3" r="13.2" fill="#8f7400" opacity="0.45" filter="url(#glow)"/><circle cx="528.7" cy="700.3" r="12" fill="#caa40c" stroke="#b39200" stroke-width="1"/><circle cx="528.7" cy="700.3" r="7.8" fill="#fff6c8" filter="url(#glow)"/><circle cx="528.7" cy="700.3" r="7" fill="#ffffff"/>
<circle cx="753.9" cy="700" r="13.2" fill="#8f7400" opacity="0.45" filter="url(#glow)"/><circle cx="753.9" cy="700" r="12" fill="#caa40c" stroke="#b39200" stroke-width="1"/><circle cx="753.9" cy="700" r="7.8" fill="#fff6c8" filter="url(#glow)"/><circle cx="753.9" cy="700" r="7" fill="#ffffff"/>
<circle cx="976.6" cy="700.8" r="13.2" fill="#8f7400" opacity="0.45" filter="url(#glow)"/><circle cx="976.6" cy="700.8" r="12" fill="#caa40c" stroke="#b39200" stroke-width="1"/><circle cx="976.6" cy="700.8" r="7.8" fill="#fff6c8" filter="url(#glow)"/><circle cx="976.6" cy="700.8" r="7" fill="#ffffff"/>
<circle cx="753.1" cy="569.7" r="13.2" fill="#8f7400" opacity="0.45" filter="url(#glow)"/><circle cx="753.1" cy="569.7" r="12" fill="#caa40c" stroke="#b39200" stroke-width="1"/><circle cx="753.1" cy="569.7" r="7.8" fill="#fff6c8" filter="url(#glow)"/><circle cx="753.1" cy="569.7" r="7" fill="#ffffff"/>
<path d="M1017.4,534 H1262.4 V593 H1071 L998.5,637.5 L1047.5,593 H1017.4 Z" fill="#000000" fill-opacity="0.85" stroke="#f1c42b" stroke-width="2.2" stroke-linejoin="miter" stroke-miterlimit="20"/>
</svg>
<div class="abs jp" style="left:42px;top:41px;width:256px;height:74px;line-height:74px;text-align:center;color:#fff;font-size:20px;font-weight:bold;letter-spacing:0px;text-shadow:1px 1.5px 1.5px rgba(40,30,0,0.55);">豊富な機能ラインアップ</div>
<div class="abs" style="left:317px;top:46px;width:100px;text-align:center;color:#fff;font-size:37px;line-height:33.5px;transform:scaleX(0.925);transform-origin:50% 50%;">Use<br>Case</div>
<div class="abs jp" style="left:526px;top:46px;color:#fff;font-size:56px;font-weight:bold;line-height:70px;text-shadow:0.7px 0 #fff,-0.7px 0 #fff,0 0.7px #fff,0 -0.7px #fff,0.5px 0.5px #fff,-0.5px -0.5px #fff,0.5px -0.5px #fff,-0.5px 0.5px #fff;">効率的なデータ収集</div>
<div class="abs jp" style="left:454px;top:42px;color:#fff;font-size:56px;font-weight:bold;line-height:70px;text-shadow:0.7px 0 #fff,-0.7px 0 #fff,0 0.7px #fff,0 -0.7px #fff,0.5px 0.5px #fff,-0.5px -0.5px #fff,0.5px -0.5px #fff,-0.5px 0.5px #fff;transform:scale(1.38,1.4);transform-origin:0 50%;">～</div>
<div class="abs jp" style="left:1026px;top:42px;color:#fff;font-size:56px;font-weight:bold;line-height:70px;text-shadow:0.7px 0 #fff,-0.7px 0 #fff,0 0.7px #fff,0 -0.7px #fff,0.5px 0.5px #fff,-0.5px -0.5px #fff,0.5px -0.5px #fff,-0.5px 0.5px #fff;transform:scale(1.38,1.4);transform-origin:0 50%;">～</div>
<div class="abs" style="left:562px;top:334px;width:399px;text-align:center;color:#fff;font-size:21px;line-height:27px;letter-spacing:0.6px;">Multi Orchestrator</div>
<div class="abs jp" style="left:1021px;top:534px;width:246px;height:59px;line-height:59px;text-align:center;color:#f6c531;font-size:26px;letter-spacing:1px;font-weight:bold;text-shadow:0.6px 0 #f6c531,-0.6px 0 #f6c531,0 0.6px #f6c531,0 -0.6px #f6c531;">音声<span style="margin:0 -6px;">・</span>画像データ</div>
<div class="abs" style="left:478px;top:421px;width:569px;text-align:center;color:#fff;font-size:21px;line-height:27px;letter-spacing:0.6px;text-shadow:1px 1px 2px rgba(0,30,80,0.5);">Software-Defined Network</div>
<svg class="abs" style="left:0;top:0" width="1500" height="845" viewBox="0 0 1500 845"><defs><filter id="cb" x="-50%" y="-50%" width="200%" height="200%"><feGaussianBlur stdDeviation="2"/></filter></defs><line x1="664" y1="421" x2="733" y2="531" stroke="#5d636c" stroke-width="7" opacity="0.55" filter="url(#cb)"/><line x1="659.5" y1="419" x2="728.5" y2="531" stroke="#0a3c87" stroke-width="4"/></svg>
</body></html>
